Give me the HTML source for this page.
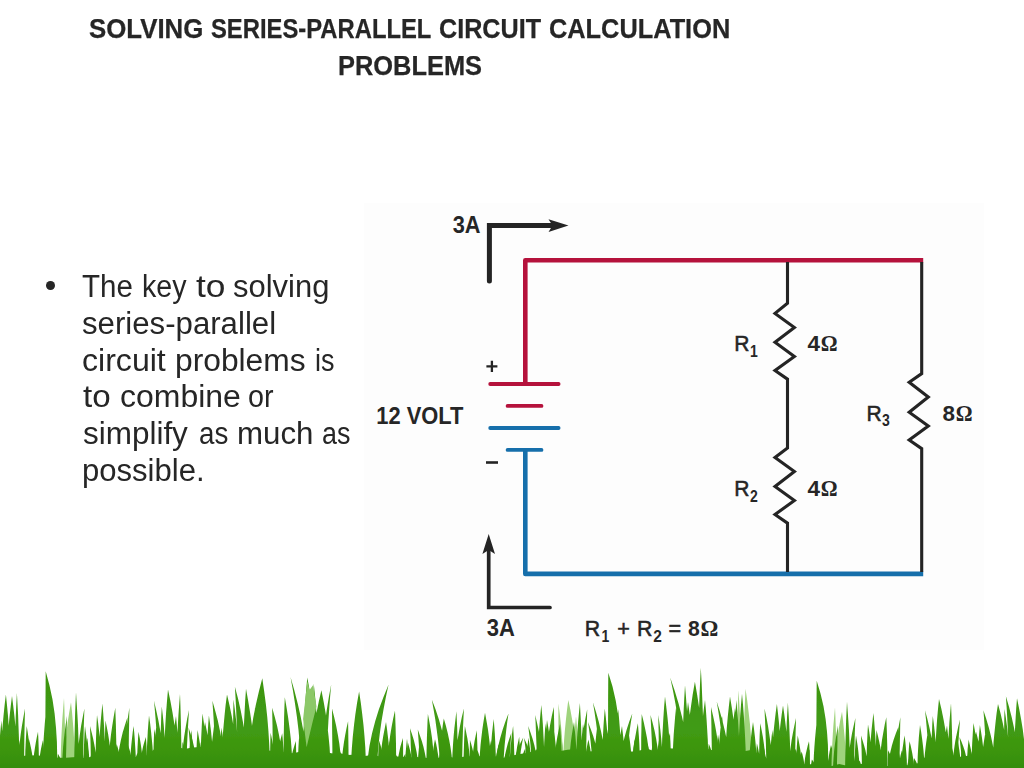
<!DOCTYPE html>
<html><head><meta charset="utf-8"><title>Solving Series-Parallel Circuit Calculation Problems</title>
<style>
html,body{margin:0;padding:0;background:#fff;}
body{width:1024px;height:768px;position:relative;overflow:hidden;font-family:"Liberation Sans",sans-serif;color:#262626;}
.t{position:absolute;white-space:nowrap;transform-origin:0 0;line-height:1;}
.title{font-weight:bold;font-size:27px;color:#262626;-webkit-text-stroke:0.25px #262626;}
.b{font-size:31px;color:#262626;}
svg{position:absolute;left:0;top:0;}
svg text{font-family:"Liberation Sans",sans-serif;fill:#262626;}
.ser{font-family:"Liberation Serif",serif !important;}
</style></head><body>

<svg width="1024" height="768" viewBox="0 0 1024 768">
<rect x="364" y="203" width="620" height="447" fill="#fdfdfd"/>
<path d="M525.3 384 V260.3 H923.2" fill="none" stroke="#b5123c" stroke-width="4.6" stroke-linejoin="round"/>
<path d="M525.3 449.9 V573.9 H923.2" fill="none" stroke="#166fab" stroke-width="4.6" stroke-linejoin="round"/>
<g stroke-linecap="round" stroke-width="3.8" fill="none">
<path d="M490.2 384 H558.6" stroke="#b5123c"/>
<path d="M507.6 405.9 H541.5" stroke="#b5123c"/>
<path d="M490.2 428 H558.6" stroke="#166fab"/>
<path d="M507.6 449.9 H541.5" stroke="#166fab"/>
</g>
<g fill="none" stroke="#242424" stroke-width="3.1" stroke-linejoin="miter">
<path d="M787.5 262 V303.3 L775.0 313.4 L794.4 327.5 L775.0 342.3 L794.4 356.4 L775.0 370.5 L787.5 379.1 V448.1 L775.0 457.5 L794.4 471.6 L775.0 486.4 L794.4 500.5 L775.0 514.5 L787.5 523.1 V572"/>
<path d="M921.7 262 V373.6 L909.2 382.2 L928.3 397 L909.2 412.2 L928.3 425.9 L909.2 440 L921.7 448.6 V572"/>
</g>
<path d="M489.4 281 V225.6 H552" fill="none" stroke="#242424" stroke-width="5" stroke-linecap="round" stroke-linejoin="miter"/>
<path d="M568.5 225.6 L548.5 219.3 L552.5 225.6 L548.5 231.9 Z" fill="#242424"/>
<path d="M488.7 546 V607.5 H550" fill="none" stroke="#242424" stroke-width="3.7" stroke-linecap="round" stroke-linejoin="miter"/>
<path d="M488.7 534 L482.4 554 L488.7 550 L495 554 Z" fill="#242424"/>
<path d="M486.4 366.4 H497.4 M491.9 360.8 V372" stroke="#242424" stroke-width="2.3" fill="none"/>
<path d="M486 462.5 H498" stroke="#242424" stroke-width="2.6" fill="none"/>
<text x="452.7" y="232.8" font-size="23.3" font-weight="bold" textLength="27.8" lengthAdjust="spacingAndGlyphs">3A</text>
<text x="486.7" y="636.2" font-size="23.3" font-weight="bold" textLength="28.1" lengthAdjust="spacingAndGlyphs">3A</text>
<text x="376.3" y="423.7" font-size="23.3" font-weight="bold" textLength="87.2" lengthAdjust="spacingAndGlyphs">12 VOLT</text>
<text x="734.3" y="350.9" font-size="22.7" font-weight="normal" textLength="15.2" lengthAdjust="spacingAndGlyphs" stroke="#262626" stroke-width="0.55">R</text><text x="749.9" y="356.79999999999995" font-size="16.5" font-weight="bold" textLength="7.8" lengthAdjust="spacingAndGlyphs">1</text>
<text x="734.3" y="496.3" font-size="22.7" font-weight="normal" textLength="15.2" lengthAdjust="spacingAndGlyphs" stroke="#262626" stroke-width="0.55">R</text><text x="749.9" y="502.2" font-size="16.5" font-weight="bold" textLength="7.8" lengthAdjust="spacingAndGlyphs">2</text>
<text x="866.5" y="420.5" font-size="22.7" font-weight="normal" textLength="15.2" lengthAdjust="spacingAndGlyphs" stroke="#262626" stroke-width="0.55">R</text><text x="882.1" y="426.4" font-size="16.5" font-weight="bold" textLength="7.8" lengthAdjust="spacingAndGlyphs">3</text>
<text x="807.5" y="350.9" font-size="22.7" font-weight="bold" textLength="12.5" lengthAdjust="spacingAndGlyphs">4</text><text x="820.7" y="350.9" font-size="22.7" font-weight="bold" class="ser" textLength="16.8" lengthAdjust="spacingAndGlyphs">&#937;</text>
<text x="807.5" y="496.3" font-size="22.7" font-weight="bold" textLength="12.5" lengthAdjust="spacingAndGlyphs">4</text><text x="820.7" y="496.3" font-size="22.7" font-weight="bold" class="ser" textLength="16.8" lengthAdjust="spacingAndGlyphs">&#937;</text>
<text x="942.6" y="420.5" font-size="22.7" font-weight="bold" textLength="12.5" lengthAdjust="spacingAndGlyphs">8</text><text x="955.8000000000001" y="420.5" font-size="22.7" font-weight="bold" class="ser" textLength="16.8" lengthAdjust="spacingAndGlyphs">&#937;</text>
<text x="584.8" y="636.2" font-size="22.7" font-weight="normal" textLength="15.4" lengthAdjust="spacingAndGlyphs" stroke="#262626" stroke-width="0.55">R</text><text x="601.6" y="642.0" font-size="16.5" font-weight="bold" textLength="7.8" lengthAdjust="spacingAndGlyphs">1</text>
<text x="617.2" y="636.2" font-size="22.7" font-weight="normal" textLength="12.6" lengthAdjust="spacingAndGlyphs" stroke="#262626" stroke-width="0.55">+</text>
<text x="636.9" y="636.2" font-size="22.7" font-weight="normal" textLength="15.4" lengthAdjust="spacingAndGlyphs" stroke="#262626" stroke-width="0.55">R</text><text x="653.2" y="642.0" font-size="16.5" font-weight="bold" textLength="8.6" lengthAdjust="spacingAndGlyphs">2</text>
<text x="668.4" y="636.2" font-size="22.7" font-weight="normal" textLength="12.6" lengthAdjust="spacingAndGlyphs" stroke="#262626" stroke-width="0.55">=</text>
<text x="688.0" y="636.2" font-size="22.7" font-weight="bold" textLength="11.8" lengthAdjust="spacingAndGlyphs">8</text><text x="700.4" y="636.2" font-size="22.7" font-weight="bold" class="ser" textLength="17.8" lengthAdjust="spacingAndGlyphs">&#937;</text>
</svg>
<svg width="1024" height="768" viewBox="0 0 1024 768">
<defs><filter id="bl" x="0" y="0" width="100%" height="100%" filterUnits="userSpaceOnUse"><feGaussianBlur stdDeviation="0.55"/></filter><linearGradient id="gg" gradientUnits="userSpaceOnUse" x1="0" y1="670" x2="0" y2="768"><stop offset="0" stop-color="#3a9410"/><stop offset="0.6" stop-color="#419b13"/><stop offset="0.8" stop-color="#3c960f"/><stop offset="1" stop-color="#358d0a"/></linearGradient></defs>
<g filter="url(#bl)">
<path fill="url(#gg)" d="M-3.5 770.0 L-3.4 765.9 L-3.4 761.9 L-3.2 757.8 L-3.0 753.7 L-2.8 749.6 L-2.5 745.6 L-2.1 741.5 L-0.8 745.6 L0.4 749.6 L1.4 753.7 L2.2 757.8 L2.9 761.9 L3.3 765.9 L3.5 770.0Z M3.3 770.0 L3.3 766.0 L3.4 762.1 L3.4 758.1 L3.5 754.2 L3.6 750.2 L3.8 746.3 L4.0 742.3 L5.4 746.3 L6.6 750.2 L7.7 754.2 L8.5 758.1 L9.2 762.1 L9.7 766.0 L9.9 770.0Z M9.8 770.0 L9.8 765.3 L9.8 760.7 L9.9 756.0 L10.0 751.4 L10.1 746.7 L10.3 742.1 L10.5 737.4 L11.8 742.1 L12.9 746.7 L14.0 751.4 L14.8 756.0 L15.4 760.7 L15.9 765.3 L16.0 770.0Z M14.4 770.0 L14.5 765.7 L14.9 761.5 L15.4 757.2 L16.1 752.9 L16.9 748.6 L17.9 744.4 L19.0 740.1 L19.8 744.4 L20.5 748.6 L21.1 752.9 L21.5 757.2 L21.9 761.5 L22.1 765.7 L22.2 770.0Z M20.7 770.0 L20.7 767.6 L20.8 765.1 L20.9 762.7 L21.0 760.3 L21.2 757.9 L21.5 755.4 L21.7 753.0 L23.3 755.4 L24.7 757.9 L25.8 760.3 L26.8 762.7 L27.5 765.1 L28.0 767.6 L28.3 770.0Z M26.2 770.0 L26.2 765.5 L26.4 761.0 L26.7 756.5 L27.1 752.0 L27.6 747.5 L28.1 743.0 L28.8 738.5 L29.9 743.0 L30.9 747.5 L31.8 752.0 L32.5 756.5 L33.1 761.0 L33.5 765.5 L33.6 770.0Z M33.3 770.0 L33.4 766.8 L33.6 763.6 L33.9 760.3 L34.2 757.1 L34.7 753.9 L35.3 750.7 L35.9 747.5 L36.9 750.7 L37.7 753.9 L38.5 757.1 L39.1 760.3 L39.5 763.6 L39.8 766.8 L40.0 770.0Z M38.7 770.0 L38.8 765.7 L39.1 761.5 L39.6 757.2 L40.3 753.0 L41.0 748.7 L41.9 744.5 L42.9 740.2 L43.4 744.5 L43.9 748.7 L44.2 753.0 L44.5 757.2 L44.8 761.5 L44.9 765.7 L45.0 770.0Z M44.9 770.0 L45.0 766.4 L45.1 762.7 L45.4 759.1 L45.8 755.4 L46.2 751.8 L46.8 748.2 L47.4 744.5 L48.6 748.2 L49.6 751.8 L50.5 755.4 L51.2 759.1 L51.7 762.7 L52.1 766.4 L52.3 770.0Z M50.5 770.0 L50.6 766.7 L50.9 763.3 L51.4 760.0 L52.0 756.7 L52.7 753.3 L53.5 750.0 L54.5 746.7 L55.4 750.0 L56.1 753.3 L56.8 756.7 L57.3 760.0 L57.7 763.3 L58.0 766.7 L58.1 770.0Z M57.1 770.0 L57.1 767.7 L57.1 765.3 L57.2 763.0 L57.3 760.7 L57.5 758.3 L57.7 756.0 L57.9 753.7 L59.2 756.0 L60.3 758.3 L61.3 760.7 L62.1 763.0 L62.7 765.3 L63.1 767.7 L63.3 770.0Z M62.1 770.0 L62.1 766.5 L62.2 762.9 L62.2 759.4 L62.3 755.9 L62.5 752.4 L62.7 748.8 L62.9 745.3 L64.4 748.8 L65.7 752.4 L66.8 755.9 L67.7 759.4 L68.4 762.9 L68.9 766.5 L69.1 770.0Z M68.8 770.0 L68.9 767.4 L69.1 764.8 L69.3 762.2 L69.7 759.6 L70.1 757.1 L70.6 754.5 L71.2 751.9 L72.4 754.5 L73.3 757.1 L74.2 759.6 L74.9 762.2 L75.4 764.8 L75.7 767.4 L75.9 770.0Z M75.2 770.0 L75.4 766.4 L75.8 762.8 L76.5 759.2 L77.4 755.6 L78.5 752.0 L79.7 748.4 L81.1 744.8 L81.6 748.4 L82.0 752.0 L82.4 755.6 L82.6 759.2 L82.8 762.8 L83.0 766.4 L83.0 770.0Z M82.6 770.0 L82.8 765.4 L83.1 760.9 L83.7 756.3 L84.4 751.7 L85.2 747.2 L86.2 742.6 L87.3 738.0 L87.9 742.6 L88.3 747.2 L88.8 751.7 L89.1 756.3 L89.3 760.9 L89.5 765.4 L89.6 770.0Z M90.0 770.0 L90.1 766.0 L90.3 762.0 L90.6 757.9 L91.1 753.9 L91.6 749.9 L92.2 745.9 L92.9 741.8 L93.9 745.9 L94.8 749.9 L95.5 753.9 L96.1 757.9 L96.6 762.0 L96.9 766.0 L97.1 770.0Z M97.3 770.0 L97.3 765.7 L97.3 761.4 L97.4 757.1 L97.4 752.8 L97.5 748.5 L97.5 744.2 L97.6 739.9 L98.8 744.2 L99.8 748.5 L100.7 752.8 L101.4 757.1 L102.0 761.4 L102.4 765.7 L102.5 770.0Z M101.5 770.0 L101.6 765.9 L101.8 761.8 L102.2 757.7 L102.7 753.5 L103.2 749.4 L103.9 745.3 L104.7 741.2 L105.7 745.3 L106.7 749.4 L107.5 753.5 L108.1 757.7 L108.7 761.8 L109.0 765.9 L109.1 770.0Z M107.9 770.0 L108.1 766.6 L108.6 763.2 L109.3 759.9 L110.2 756.5 L111.3 753.1 L112.5 749.7 L114.0 746.3 L114.3 749.7 L114.7 753.1 L114.9 756.5 L115.1 759.9 L115.3 763.2 L115.4 766.6 L115.4 770.0Z M113.7 770.0 L113.8 766.3 L114.0 762.6 L114.3 758.9 L114.8 755.2 L115.3 751.5 L115.9 747.8 L116.7 744.1 L117.8 747.8 L118.8 751.5 L119.6 755.2 L120.3 758.9 L120.8 762.6 L121.2 766.3 L121.3 770.0Z M120.1 770.0 L120.1 765.7 L120.2 761.4 L120.4 757.1 L120.5 752.9 L120.8 748.6 L121.0 744.3 L121.4 740.0 L122.4 744.3 L123.3 748.6 L124.1 752.9 L124.8 757.1 L125.3 761.4 L125.7 765.7 L125.8 770.0Z M126.6 770.0 L126.6 765.9 L126.6 761.8 L126.6 757.7 L126.6 753.6 L126.6 749.6 L126.7 745.5 L126.8 741.4 L128.2 745.5 L129.5 749.6 L130.6 753.6 L131.5 757.7 L132.2 761.8 L132.7 765.9 L132.9 770.0Z M133.2 770.0 L133.3 767.5 L133.6 765.1 L134.1 762.6 L134.8 760.1 L135.6 757.7 L136.5 755.2 L137.6 752.7 L138.1 755.2 L138.6 757.7 L138.9 760.1 L139.3 762.6 L139.5 765.1 L139.6 767.5 L139.7 770.0Z M139.8 770.0 L140.0 765.3 L140.5 760.6 L141.2 755.9 L142.1 751.2 L143.1 746.5 L144.4 741.8 L145.9 737.1 L146.2 741.8 L146.5 746.5 L146.7 751.2 L146.9 755.9 L147.0 760.6 L147.1 765.3 L147.1 770.0Z M148.2 770.0 L148.3 765.5 L148.4 761.1 L148.6 756.6 L148.9 752.2 L149.3 747.7 L149.7 743.2 L150.2 738.8 L151.0 743.2 L151.7 747.7 L152.3 752.2 L152.8 756.6 L153.2 761.1 L153.4 765.5 L153.5 770.0Z M153.3 770.0 L153.3 764.2 L153.4 758.3 L153.5 752.5 L153.6 746.7 L153.8 740.8 L154.0 735.0 L154.3 729.1 L155.4 735.0 L156.3 740.8 L157.1 746.7 L157.8 752.5 L158.3 758.3 L158.6 764.2 L158.8 770.0Z M158.5 770.0 L158.5 764.0 L158.6 758.0 L158.6 752.0 L158.7 746.0 L158.8 740.0 L158.9 734.0 L159.1 727.9 L160.2 734.0 L161.2 740.0 L162.1 746.0 L162.8 752.0 L163.3 758.0 L163.7 764.0 L163.8 770.0Z M163.5 770.0 L163.7 766.1 L163.9 762.2 L164.3 758.3 L164.8 754.4 L165.4 750.5 L166.1 746.6 L167.0 742.8 L167.5 746.6 L167.9 750.5 L168.3 754.4 L168.6 758.3 L168.8 762.2 L168.9 766.1 L169.0 770.0Z M168.5 770.0 L168.6 764.9 L168.7 759.7 L168.8 754.6 L169.0 749.4 L169.3 744.3 L169.7 739.2 L170.0 734.0 L171.5 739.2 L172.7 744.3 L173.8 749.4 L174.7 754.6 L175.4 759.7 L175.9 764.9 L176.1 770.0Z M176.1 770.0 L176.0 765.1 L176.0 760.3 L176.0 755.4 L176.1 750.6 L176.1 745.7 L176.2 740.8 L176.2 736.0 L177.4 740.8 L178.5 745.7 L179.4 750.6 L180.2 755.4 L180.8 760.3 L181.2 765.1 L181.4 770.0Z M182.0 770.0 L182.0 766.0 L182.0 761.9 L182.0 757.9 L182.1 753.9 L182.2 749.8 L182.3 745.8 L182.5 741.8 L183.6 745.8 L184.5 749.8 L185.3 753.9 L186.0 757.9 L186.5 761.9 L186.9 766.0 L187.0 770.0Z M188.5 770.0 L188.6 764.3 L188.8 758.6 L189.2 752.9 L189.6 747.2 L190.1 741.5 L190.7 735.8 L191.3 730.1 L191.9 735.8 L192.4 741.5 L192.8 747.2 L193.1 752.9 L193.4 758.6 L193.6 764.3 L193.6 770.0Z M196.1 770.0 L196.3 766.0 L196.6 762.1 L197.0 758.1 L197.6 754.1 L198.4 750.2 L199.2 746.2 L200.2 742.2 L200.6 746.2 L201.0 750.2 L201.3 754.1 L201.6 758.1 L201.8 762.1 L201.9 766.0 L201.9 770.0Z M200.9 770.0 L201.0 765.8 L201.3 761.6 L201.7 757.4 L202.3 753.2 L203.0 749.0 L203.8 744.8 L204.7 740.6 L205.6 744.8 L206.3 749.0 L206.9 753.2 L207.4 757.4 L207.8 761.6 L208.1 765.8 L208.2 770.0Z M206.4 770.0 L206.6 765.9 L207.2 761.8 L207.9 757.7 L208.9 753.6 L210.1 749.4 L211.5 745.3 L213.1 741.2 L213.3 745.3 L213.6 749.4 L213.7 753.6 L213.8 757.7 L213.9 761.8 L214.0 765.9 L214.0 770.0Z M214.4 770.0 L214.4 765.7 L214.5 761.4 L214.7 757.1 L214.9 752.8 L215.2 748.5 L215.6 744.2 L216.0 739.9 L217.2 744.2 L218.2 748.5 L219.1 752.8 L219.8 757.1 L220.4 761.4 L220.8 765.7 L220.9 770.0Z M219.8 770.0 L219.9 764.0 L220.0 757.9 L220.2 751.9 L220.4 745.9 L220.7 739.8 L221.0 733.8 L221.4 727.8 L222.4 733.8 L223.3 739.8 L224.1 745.9 L224.7 751.9 L225.2 757.9 L225.5 764.0 L225.6 770.0Z M226.6 770.0 L226.8 765.0 L227.4 759.9 L228.1 754.9 L229.1 749.9 L230.3 744.9 L231.7 739.8 L233.2 734.8 L233.6 739.8 L233.9 744.9 L234.1 749.9 L234.3 754.9 L234.5 759.9 L234.6 765.0 L234.6 770.0Z M233.9 770.0 L233.9 764.4 L234.0 758.8 L234.1 753.2 L234.3 747.7 L234.5 742.1 L234.8 736.5 L235.1 730.9 L236.1 736.5 L237.0 742.1 L237.8 747.7 L238.5 753.2 L239.0 758.8 L239.4 764.4 L239.5 770.0Z M240.4 770.0 L240.5 766.1 L240.9 762.1 L241.5 758.2 L242.3 754.2 L243.3 750.3 L244.4 746.3 L245.6 742.4 L245.9 746.3 L246.2 750.3 L246.4 754.2 L246.6 758.2 L246.7 762.1 L246.8 766.1 L246.8 770.0Z M247.1 770.0 L247.3 764.1 L247.6 758.2 L248.2 752.2 L248.9 746.3 L249.8 740.4 L250.8 734.5 L251.9 728.6 L252.6 734.5 L253.3 740.4 L253.8 746.3 L254.2 752.2 L254.5 758.2 L254.8 764.1 L254.8 770.0Z M254.5 770.0 L254.6 765.2 L254.7 760.3 L254.9 755.5 L255.1 750.7 L255.5 745.8 L255.8 741.0 L256.3 736.2 L257.6 741.0 L258.8 745.8 L259.8 750.7 L260.6 755.5 L261.3 760.3 L261.7 765.2 L261.9 770.0Z M262.5 770.0 L262.6 766.5 L262.8 763.0 L263.0 759.5 L263.4 756.0 L263.9 752.5 L264.4 749.0 L265.0 745.5 L265.9 749.0 L266.7 752.5 L267.4 756.0 L267.9 759.5 L268.3 763.0 L268.6 766.5 L268.7 770.0Z M270.1 770.0 L270.1 764.7 L270.1 759.4 L270.1 754.0 L270.2 748.7 L270.3 743.4 L270.4 738.1 L270.6 732.7 L271.7 738.1 L272.8 743.4 L273.7 748.7 L274.4 754.0 L275.0 759.4 L275.4 764.7 L275.5 770.0Z M276.2 770.0 L276.4 764.8 L276.9 759.5 L277.6 754.3 L278.5 749.0 L279.5 743.8 L280.8 738.5 L282.2 733.3 L282.7 738.5 L283.1 743.8 L283.5 749.0 L283.8 754.3 L284.0 759.5 L284.1 764.8 L284.2 770.0Z M283.7 770.0 L283.7 765.8 L283.7 761.7 L283.8 757.5 L283.8 753.3 L283.9 749.2 L284.0 745.0 L284.1 740.9 L285.2 745.0 L286.2 749.2 L287.0 753.3 L287.7 757.5 L288.3 761.7 L288.6 765.8 L288.8 770.0Z M290.1 770.0 L290.3 765.9 L290.7 761.7 L291.4 757.6 L292.2 753.5 L293.3 749.3 L294.5 745.2 L295.8 741.1 L296.0 745.2 L296.1 749.3 L296.2 753.5 L296.3 757.6 L296.3 761.7 L296.4 765.9 L296.4 770.0Z M297.8 770.0 L297.8 765.1 L297.9 760.3 L298.0 755.4 L298.3 750.6 L298.5 745.7 L298.8 740.9 L299.2 736.0 L300.3 740.9 L301.2 745.7 L302.0 750.6 L302.6 755.4 L303.2 760.3 L303.5 765.1 L303.6 770.0Z M304.8 770.0 L304.8 765.3 L305.0 760.6 L305.2 755.9 L305.6 751.2 L306.0 746.5 L306.4 741.8 L307.0 737.1 L307.7 741.8 L308.4 746.5 L309.0 751.2 L309.5 755.9 L309.8 760.6 L310.1 765.3 L310.2 770.0Z M309.7 770.0 L309.8 765.8 L310.1 761.6 L310.6 757.5 L311.3 753.3 L312.0 749.1 L313.0 744.9 L314.0 740.7 L314.8 744.9 L315.6 749.1 L316.2 753.3 L316.7 757.5 L317.0 761.6 L317.3 765.8 L317.4 770.0Z M318.0 770.0 L318.1 766.0 L318.4 761.9 L318.7 757.9 L319.3 753.9 L319.9 749.8 L320.6 745.8 L321.5 741.8 L322.2 745.8 L322.9 749.8 L323.4 753.9 L323.9 757.9 L324.2 761.9 L324.5 766.0 L324.6 770.0Z M323.9 770.0 L323.9 765.2 L323.9 760.5 L324.0 755.7 L324.1 750.9 L324.2 746.2 L324.4 741.4 L324.6 736.6 L326.2 741.4 L327.6 746.2 L328.8 750.9 L329.8 755.7 L330.5 760.5 L331.1 765.2 L331.3 770.0Z M331.0 770.0 L331.1 766.6 L331.4 763.2 L331.8 759.8 L332.2 756.3 L332.8 752.9 L333.5 749.5 L334.4 746.1 L335.0 749.5 L335.6 752.9 L336.0 756.3 L336.4 759.8 L336.7 763.2 L336.9 766.6 L337.0 770.0Z M337.3 770.0 L337.4 766.8 L337.4 763.5 L337.5 760.3 L337.6 757.1 L337.8 753.8 L338.1 750.6 L338.3 747.4 L339.7 750.6 L340.9 753.8 L341.9 757.1 L342.7 760.3 L343.4 763.5 L343.8 766.8 L344.0 770.0Z M343.2 770.0 L343.3 766.8 L343.5 763.6 L343.9 760.3 L344.4 757.1 L345.0 753.9 L345.7 750.7 L346.6 747.5 L347.4 750.7 L348.1 753.9 L348.6 757.1 L349.1 760.3 L349.5 763.6 L349.8 766.8 L349.9 770.0Z M351.0 770.0 L351.1 766.0 L351.4 762.1 L351.9 758.1 L352.4 754.1 L353.1 750.2 L354.0 746.2 L354.9 742.2 L355.6 746.2 L356.1 750.2 L356.6 754.1 L357.0 758.1 L357.2 762.1 L357.4 766.0 L357.5 770.0Z M358.1 770.0 L358.2 766.1 L358.5 762.2 L358.9 758.3 L359.4 754.4 L360.0 750.5 L360.7 746.6 L361.5 742.8 L362.3 746.6 L362.9 750.5 L363.4 754.4 L363.9 758.3 L364.2 762.2 L364.5 766.1 L364.5 770.0Z M365.5 770.0 L365.7 767.2 L366.2 764.4 L366.8 761.6 L367.6 758.8 L368.6 755.9 L369.8 753.1 L371.1 750.3 L371.2 753.1 L371.2 755.9 L371.3 758.8 L371.3 761.6 L371.3 764.4 L371.3 767.2 L371.3 770.0Z M373.6 770.0 L373.6 767.2 L373.6 764.3 L373.6 761.5 L373.7 758.6 L373.8 755.8 L373.9 752.9 L374.1 750.1 L375.2 752.9 L376.2 755.8 L377.1 758.6 L377.8 761.5 L378.4 764.3 L378.8 767.2 L378.9 770.0Z M378.0 770.0 L378.0 765.7 L378.0 761.5 L378.1 757.2 L378.3 753.0 L378.4 748.7 L378.6 744.4 L378.9 740.2 L380.3 744.4 L381.6 748.7 L382.7 753.0 L383.6 757.2 L384.3 761.5 L384.8 765.7 L385.0 770.0Z M385.7 770.0 L385.8 765.6 L386.2 761.2 L386.7 756.8 L387.4 752.3 L388.3 747.9 L389.3 743.5 L390.5 739.1 L391.0 743.5 L391.5 747.9 L391.9 752.3 L392.2 756.8 L392.4 761.2 L392.6 765.6 L392.7 770.0Z M392.9 770.0 L392.9 767.6 L393.1 765.2 L393.3 762.8 L393.7 760.5 L394.1 758.1 L394.6 755.7 L395.1 753.3 L396.5 755.7 L397.6 758.1 L398.7 760.5 L399.5 762.8 L400.1 765.2 L400.6 767.6 L400.7 770.0Z M400.5 770.0 L400.7 767.7 L401.1 765.4 L401.6 763.1 L402.3 760.8 L403.2 758.4 L404.1 756.1 L405.3 753.8 L405.5 756.1 L405.6 758.4 L405.8 760.8 L405.9 763.1 L406.0 765.4 L406.0 767.7 L406.0 770.0Z M406.8 770.0 L406.9 766.1 L406.9 762.2 L407.1 758.3 L407.2 754.4 L407.4 750.5 L407.7 746.7 L408.0 742.8 L409.1 746.7 L410.1 750.5 L411.0 754.4 L411.7 758.3 L412.3 762.2 L412.6 766.1 L412.8 770.0Z M412.3 770.0 L412.4 766.6 L412.6 763.3 L412.8 759.9 L413.1 756.5 L413.5 753.2 L414.0 749.8 L414.5 746.4 L415.2 749.8 L415.8 753.2 L416.3 756.5 L416.8 759.9 L417.1 763.3 L417.3 766.6 L417.4 770.0Z M417.8 770.0 L417.8 766.5 L417.9 763.1 L418.0 759.6 L418.2 756.1 L418.5 752.6 L418.8 749.2 L419.1 745.7 L420.7 749.2 L422.1 752.6 L423.3 756.1 L424.2 759.6 L425.0 763.1 L425.5 766.5 L425.7 770.0Z M427.1 770.0 L427.1 765.5 L427.2 761.1 L427.3 756.6 L427.5 752.2 L427.7 747.7 L428.0 743.2 L428.3 738.8 L429.2 743.2 L430.0 747.7 L430.7 752.2 L431.3 756.6 L431.8 761.1 L432.1 765.5 L432.2 770.0Z M431.6 770.0 L431.7 765.6 L432.0 761.2 L432.3 756.8 L432.8 752.4 L433.5 748.0 L434.2 743.6 L435.0 739.2 L436.1 743.6 L437.0 748.0 L437.7 752.4 L438.4 756.8 L438.9 761.2 L439.2 765.6 L439.3 770.0Z M437.9 770.0 L438.1 765.6 L438.5 761.3 L439.2 756.9 L440.1 752.6 L441.1 748.2 L442.4 743.9 L443.8 739.5 L444.0 743.9 L444.2 748.2 L444.4 752.6 L444.5 756.9 L444.6 761.3 L444.6 765.6 L444.6 770.0Z M443.4 770.0 L443.5 765.4 L443.8 760.9 L444.3 756.3 L445.0 751.7 L445.7 747.1 L446.6 742.6 L447.6 738.0 L448.1 742.6 L448.6 747.1 L448.9 751.7 L449.2 756.3 L449.5 760.9 L449.6 765.4 L449.7 770.0Z M451.7 770.0 L451.9 766.8 L452.2 763.7 L452.7 760.5 L453.4 757.3 L454.2 754.1 L455.1 751.0 L456.1 747.8 L456.4 751.0 L456.5 754.1 L456.7 757.3 L456.8 760.5 L456.9 763.7 L456.9 766.8 L457.0 770.0Z M456.5 770.0 L456.6 767.4 L456.8 764.8 L457.1 762.1 L457.5 759.5 L458.0 756.9 L458.6 754.3 L459.3 751.7 L460.0 754.3 L460.7 756.9 L461.3 759.5 L461.8 762.1 L462.2 764.8 L462.4 767.4 L462.5 770.0Z M464.0 770.0 L464.0 765.9 L464.1 761.9 L464.2 757.8 L464.4 753.7 L464.6 749.7 L464.8 745.6 L465.1 741.6 L466.4 745.6 L467.6 749.7 L468.5 753.7 L469.4 757.8 L470.0 761.9 L470.4 765.9 L470.6 770.0Z M469.8 770.0 L469.8 765.7 L469.8 761.4 L469.8 757.0 L469.8 752.7 L469.8 748.4 L469.9 744.1 L469.9 739.7 L471.2 744.1 L472.4 748.4 L473.4 752.7 L474.2 757.0 L474.8 761.4 L475.3 765.7 L475.4 770.0Z M475.3 770.0 L475.4 767.1 L475.5 764.3 L475.7 761.4 L476.0 758.5 L476.4 755.7 L476.8 752.8 L477.3 749.9 L478.4 752.8 L479.3 755.7 L480.1 758.5 L480.8 761.4 L481.3 764.3 L481.7 767.1 L481.8 770.0Z M482.1 770.0 L482.1 765.3 L482.2 760.7 L482.3 756.0 L482.4 751.3 L482.6 746.6 L482.8 742.0 L483.1 737.3 L484.1 742.0 L484.9 746.6 L485.6 751.3 L486.2 756.0 L486.7 760.7 L487.0 765.3 L487.1 770.0Z M487.3 770.0 L487.5 765.7 L487.7 761.5 L488.2 757.2 L488.7 753.0 L489.4 748.7 L490.2 744.5 L491.1 740.2 L492.1 744.5 L492.9 748.7 L493.7 753.0 L494.3 757.2 L494.7 761.5 L495.0 765.7 L495.2 770.0Z M495.0 770.0 L495.1 766.3 L495.3 762.7 L495.8 759.0 L496.3 755.3 L497.0 751.7 L497.8 748.0 L498.7 744.3 L499.6 748.0 L500.4 751.7 L501.1 755.3 L501.6 759.0 L502.1 762.7 L502.3 766.3 L502.5 770.0Z M502.2 770.0 L502.4 767.0 L502.9 763.9 L503.6 760.9 L504.4 757.8 L505.5 754.8 L506.7 751.7 L508.1 748.7 L508.2 751.7 L508.2 754.8 L508.3 757.8 L508.3 760.9 L508.3 763.9 L508.3 767.0 L508.2 770.0Z M509.3 770.0 L509.4 766.8 L509.6 763.6 L509.8 760.5 L510.2 757.3 L510.7 754.1 L511.2 750.9 L511.8 747.7 L512.6 750.9 L513.4 754.1 L514.0 757.3 L514.6 760.5 L515.0 763.6 L515.3 766.8 L515.4 770.0Z M514.9 770.0 L515.0 765.3 L515.3 760.5 L515.8 755.8 L516.5 751.0 L517.2 746.3 L518.2 741.5 L519.2 736.8 L519.5 741.5 L519.9 746.3 L520.1 751.0 L520.3 755.8 L520.5 760.5 L520.6 765.3 L520.6 770.0Z M519.5 770.0 L519.7 766.9 L520.1 763.9 L520.8 760.8 L521.6 757.7 L522.7 754.7 L523.9 751.6 L525.2 748.6 L525.6 751.6 L525.8 754.7 L526.1 757.7 L526.3 760.8 L526.4 763.9 L526.5 766.9 L526.5 770.0Z M526.0 770.0 L526.1 765.4 L526.2 760.8 L526.5 756.2 L526.9 751.6 L527.3 747.0 L527.9 742.4 L528.5 737.8 L529.2 742.4 L529.8 747.0 L530.4 751.6 L530.8 756.2 L531.1 760.8 L531.4 765.4 L531.5 770.0Z M531.2 770.0 L531.4 766.8 L531.9 763.6 L532.6 760.5 L533.5 757.3 L534.6 754.1 L535.9 750.9 L537.3 747.7 L537.5 750.9 L537.6 754.1 L537.7 757.3 L537.8 760.5 L537.8 763.6 L537.8 766.8 L537.8 770.0Z M539.9 770.0 L539.9 765.0 L540.1 760.1 L540.2 755.1 L540.5 750.2 L540.8 745.2 L541.1 740.2 L541.5 735.3 L542.3 740.2 L543.1 745.2 L543.7 750.2 L544.2 755.1 L544.5 760.1 L544.8 765.0 L544.9 770.0Z M545.6 770.0 L545.6 765.5 L545.7 761.0 L545.9 756.6 L546.1 752.1 L546.3 747.6 L546.7 743.1 L547.0 738.6 L548.2 743.1 L549.3 747.6 L550.2 752.1 L551.0 756.6 L551.5 761.0 L551.9 765.5 L552.1 770.0Z M552.1 770.0 L552.1 764.5 L552.3 759.0 L552.5 753.6 L552.8 748.1 L553.1 742.6 L553.5 737.1 L554.0 731.7 L554.8 737.1 L555.4 742.6 L556.0 748.1 L556.5 753.6 L556.8 759.0 L557.1 764.5 L557.2 770.0Z M557.2 770.0 L557.4 764.9 L557.6 759.8 L558.1 754.6 L558.6 749.5 L559.3 744.4 L560.1 739.3 L561.0 734.2 L561.7 739.3 L562.3 744.4 L562.8 749.5 L563.2 754.6 L563.5 759.8 L563.7 764.9 L563.8 770.0Z M564.4 770.0 L564.6 766.1 L565.0 762.1 L565.6 758.2 L566.4 754.3 L567.4 750.3 L568.5 746.4 L569.8 742.4 L570.0 746.4 L570.2 750.3 L570.3 754.3 L570.5 758.2 L570.5 762.1 L570.6 766.1 L570.6 770.0Z M572.0 770.0 L572.1 764.7 L572.5 759.4 L573.1 754.1 L573.8 748.8 L574.6 743.5 L575.7 738.2 L576.8 732.9 L577.3 738.2 L577.8 743.5 L578.2 748.8 L578.5 754.1 L578.7 759.4 L578.9 764.7 L578.9 770.0Z M579.4 770.0 L579.5 766.5 L579.8 763.0 L580.3 759.5 L581.0 756.1 L581.8 752.6 L582.7 749.1 L583.7 745.6 L584.4 749.1 L585.0 752.6 L585.5 756.1 L586.0 759.5 L586.3 763.0 L586.5 766.5 L586.6 770.0Z M584.6 770.0 L584.7 765.6 L585.0 761.3 L585.5 756.9 L586.0 752.5 L586.7 748.1 L587.5 743.8 L588.4 739.4 L589.3 743.8 L590.1 748.1 L590.8 752.5 L591.3 756.9 L591.7 761.3 L592.0 765.6 L592.1 770.0Z M592.3 770.0 L592.5 765.8 L593.0 761.6 L593.7 757.4 L594.5 753.1 L595.6 748.9 L596.8 744.7 L598.2 740.5 L598.5 744.7 L598.8 748.9 L599.0 753.1 L599.2 757.4 L599.3 761.6 L599.4 765.8 L599.4 770.0Z M598.5 770.0 L598.5 764.4 L598.6 758.9 L598.7 753.3 L598.8 747.8 L598.9 742.2 L599.1 736.7 L599.4 731.1 L600.6 736.7 L601.7 742.2 L602.6 747.8 L603.4 753.3 L604.0 758.9 L604.4 764.4 L604.6 770.0Z M605.6 770.0 L605.8 765.7 L606.1 761.5 L606.6 757.2 L607.2 753.0 L607.9 748.7 L608.8 744.4 L609.8 740.2 L610.5 744.4 L611.1 748.7 L611.5 753.0 L611.9 757.2 L612.2 761.5 L612.4 765.7 L612.5 770.0Z M611.9 770.0 L612.1 764.4 L612.5 758.8 L613.1 753.2 L613.9 747.6 L614.9 742.0 L616.0 736.4 L617.3 730.8 L617.8 736.4 L618.2 742.0 L618.5 747.6 L618.8 753.2 L619.0 758.8 L619.1 764.4 L619.2 770.0Z M618.5 770.0 L618.5 766.0 L618.6 762.0 L618.7 758.0 L618.8 754.0 L619.0 750.0 L619.3 746.0 L619.5 742.0 L621.0 746.0 L622.3 750.0 L623.4 754.0 L624.3 758.0 L625.1 762.0 L625.5 766.0 L625.7 770.0Z M624.5 770.0 L624.7 765.1 L625.0 760.1 L625.5 755.2 L626.1 750.2 L626.9 745.3 L627.7 740.3 L628.7 735.4 L629.1 740.3 L629.4 745.3 L629.7 750.2 L629.9 755.2 L630.0 760.1 L630.1 765.1 L630.2 770.0Z M632.1 770.0 L632.1 765.6 L632.3 761.2 L632.6 756.9 L633.0 752.5 L633.4 748.1 L634.0 743.7 L634.6 739.3 L635.5 743.7 L636.3 748.1 L637.1 752.5 L637.6 756.9 L638.1 761.2 L638.4 765.6 L638.5 770.0Z M640.0 770.0 L640.1 765.9 L640.3 761.8 L640.7 757.7 L641.3 753.6 L641.9 749.5 L642.6 745.5 L643.4 741.4 L643.9 745.5 L644.3 749.5 L644.6 753.6 L644.8 757.7 L645.0 761.8 L645.2 765.9 L645.2 770.0Z M645.0 770.0 L645.1 766.2 L645.2 762.3 L645.4 758.5 L645.8 754.7 L646.2 750.9 L646.6 747.0 L647.2 743.2 L648.3 747.0 L649.2 750.9 L650.0 754.7 L650.7 758.5 L651.2 762.3 L651.6 766.2 L651.7 770.0Z M650.0 770.0 L650.1 765.0 L650.5 760.0 L651.0 755.0 L651.7 749.9 L652.5 744.9 L653.5 739.9 L654.6 734.9 L655.2 739.9 L655.7 744.9 L656.2 749.9 L656.5 755.0 L656.8 760.0 L657.0 765.0 L657.1 770.0Z M656.2 770.0 L656.3 765.5 L656.5 761.1 L656.8 756.6 L657.3 752.2 L657.8 747.7 L658.5 743.3 L659.2 738.8 L660.0 743.3 L660.7 747.7 L661.4 752.2 L661.9 756.6 L662.2 761.1 L662.5 765.5 L662.6 770.0Z M663.2 770.0 L663.4 764.7 L663.9 759.4 L664.7 754.2 L665.7 748.9 L666.9 743.6 L668.3 738.3 L670.0 733.0 L670.2 738.3 L670.5 743.6 L670.7 748.9 L670.8 754.2 L670.9 759.4 L671.0 764.7 L671.0 770.0Z M670.3 770.0 L670.5 766.2 L671.0 762.4 L671.6 758.5 L672.5 754.7 L673.6 750.9 L674.9 747.1 L676.3 743.3 L676.4 747.1 L676.5 750.9 L676.6 754.7 L676.6 758.5 L676.6 762.4 L676.6 766.2 L676.6 770.0Z M675.7 770.0 L675.8 766.4 L675.9 762.9 L676.0 759.3 L676.3 755.8 L676.6 752.2 L676.9 748.7 L677.4 745.1 L678.6 748.7 L679.6 752.2 L680.6 755.8 L681.3 759.3 L681.9 762.9 L682.3 766.4 L682.5 770.0Z M681.9 770.0 L682.0 766.5 L682.1 762.9 L682.2 759.4 L682.4 755.9 L682.7 752.3 L683.1 748.8 L683.5 745.3 L684.9 748.8 L686.1 752.3 L687.2 755.9 L688.1 759.4 L688.7 762.9 L689.2 766.5 L689.4 770.0Z M689.5 770.0 L689.5 765.9 L689.7 761.8 L689.9 757.6 L690.3 753.5 L690.7 749.4 L691.2 745.3 L691.7 741.1 L693.0 745.3 L694.2 749.4 L695.1 753.5 L696.0 757.6 L696.6 761.8 L697.0 765.9 L697.2 770.0Z M695.2 770.0 L695.3 764.2 L695.5 758.4 L695.9 752.6 L696.4 746.8 L696.9 740.9 L697.6 735.1 L698.3 729.3 L699.1 735.1 L699.8 740.9 L700.4 746.8 L700.9 752.6 L701.2 758.4 L701.5 764.2 L701.6 770.0Z M700.1 770.0 L700.1 765.0 L700.3 760.1 L700.6 755.1 L701.0 750.1 L701.5 745.1 L702.1 740.2 L702.7 735.2 L703.9 740.2 L704.9 745.1 L705.8 750.1 L706.5 755.1 L707.1 760.1 L707.4 765.0 L707.6 770.0Z M707.2 770.0 L707.2 766.2 L707.3 762.5 L707.5 758.7 L707.7 755.0 L708.0 751.2 L708.4 747.5 L708.8 743.7 L710.3 747.5 L711.6 751.2 L712.7 755.0 L713.6 758.7 L714.3 762.5 L714.8 766.2 L715.0 770.0Z M715.7 770.0 L715.8 764.9 L715.9 759.9 L716.2 754.8 L716.5 749.7 L716.9 744.6 L717.4 739.6 L718.0 734.5 L718.9 739.6 L719.7 744.6 L720.4 749.7 L721.0 754.8 L721.5 759.9 L721.7 764.9 L721.9 770.0Z M722.6 770.0 L722.7 765.1 L722.9 760.2 L723.2 755.3 L723.5 750.4 L724.0 745.6 L724.5 740.7 L725.1 735.8 L725.9 740.7 L726.6 745.6 L727.2 750.4 L727.7 755.3 L728.1 760.2 L728.4 765.1 L728.5 770.0Z M726.9 770.0 L727.0 766.3 L727.2 762.5 L727.5 758.8 L727.9 755.1 L728.3 751.4 L728.9 747.6 L729.6 743.9 L730.8 747.6 L731.9 751.4 L732.8 755.1 L733.6 758.8 L734.2 762.5 L734.6 766.3 L734.8 770.0Z M733.6 770.0 L733.6 765.5 L733.7 761.0 L733.8 756.5 L734.0 752.0 L734.2 747.5 L734.5 743.0 L734.8 738.5 L736.0 743.0 L737.0 747.5 L737.9 752.0 L738.6 756.5 L739.2 761.0 L739.5 765.5 L739.7 770.0Z M740.4 770.0 L740.6 766.2 L740.9 762.5 L741.5 758.7 L742.1 755.0 L743.0 751.2 L744.0 747.5 L745.1 743.7 L745.8 747.5 L746.5 751.2 L747.1 755.0 L747.5 758.7 L747.9 762.5 L748.1 766.2 L748.2 770.0Z M747.3 770.0 L747.4 766.1 L747.4 762.1 L747.5 758.2 L747.6 754.3 L747.8 750.4 L748.0 746.4 L748.2 742.5 L749.7 746.4 L751.1 750.4 L752.2 754.3 L753.1 758.2 L753.8 762.1 L754.3 766.1 L754.5 770.0Z M755.6 770.0 L755.7 766.2 L755.7 762.4 L755.9 758.6 L756.1 754.7 L756.3 750.9 L756.6 747.1 L756.9 743.3 L757.8 747.1 L758.6 750.9 L759.3 754.7 L759.9 758.6 L760.4 762.4 L760.7 766.2 L760.8 770.0Z M760.6 770.0 L760.7 766.0 L760.8 762.0 L761.1 758.0 L761.4 753.9 L761.7 749.9 L762.2 745.9 L762.6 741.9 L763.6 745.9 L764.4 749.9 L765.1 753.9 L765.7 758.0 L766.1 762.0 L766.4 766.0 L766.5 770.0Z M768.6 770.0 L768.7 766.9 L769.0 763.8 L769.4 760.8 L770.0 757.7 L770.7 754.6 L771.5 751.5 L772.5 748.4 L773.0 751.5 L773.4 754.6 L773.8 757.7 L774.0 760.8 L774.3 763.8 L774.4 766.9 L774.5 770.0Z M774.9 770.0 L774.9 766.7 L774.9 763.4 L775.0 760.1 L775.1 756.8 L775.3 753.5 L775.5 750.2 L775.7 747.0 L776.8 750.2 L777.8 753.5 L778.7 756.8 L779.4 760.1 L780.0 763.4 L780.4 766.7 L780.5 770.0Z M780.2 770.0 L780.4 766.9 L780.9 763.7 L781.6 760.6 L782.6 757.4 L783.8 754.3 L785.1 751.1 L786.6 748.0 L787.0 751.1 L787.4 754.3 L787.7 757.4 L787.9 760.6 L788.1 763.7 L788.2 766.9 L788.2 770.0Z M786.6 770.0 L786.6 766.8 L786.6 763.6 L786.7 760.4 L786.7 757.2 L786.9 754.0 L787.0 750.8 L787.2 747.6 L788.4 750.8 L789.6 754.0 L790.6 757.2 L791.4 760.4 L792.0 763.6 L792.4 766.8 L792.6 770.0Z M791.5 770.0 L791.6 767.0 L791.9 763.9 L792.4 760.9 L793.1 757.9 L793.8 754.9 L794.7 751.8 L795.7 748.8 L796.6 751.8 L797.3 754.9 L797.9 757.9 L798.4 760.9 L798.8 763.9 L799.1 767.0 L799.2 770.0Z M798.5 770.0 L798.6 767.4 L798.8 764.7 L799.2 762.1 L799.7 759.5 L800.3 756.8 L800.9 754.2 L801.7 751.5 L802.4 754.2 L803.0 756.8 L803.6 759.5 L804.0 762.1 L804.3 764.7 L804.5 767.4 L804.6 770.0Z M804.1 770.0 L804.2 767.0 L804.7 764.1 L805.3 761.1 L806.1 758.2 L807.1 755.2 L808.3 752.3 L809.6 749.3 L809.6 752.3 L809.6 755.2 L809.5 758.2 L809.5 761.1 L809.5 764.1 L809.5 767.0 L809.4 770.0Z M810.7 770.0 L810.8 768.5 L810.8 767.0 L811.0 765.4 L811.1 763.9 L811.4 762.4 L811.6 760.9 L811.9 759.4 L813.0 760.9 L814.0 762.4 L814.8 763.9 L815.5 765.4 L816.0 767.0 L816.4 768.5 L816.5 770.0Z M816.1 770.0 L816.3 767.5 L816.8 765.0 L817.5 762.5 L818.5 759.9 L819.7 757.4 L821.0 754.9 L822.6 752.4 L822.8 754.9 L823.1 757.4 L823.3 759.9 L823.4 762.5 L823.5 765.0 L823.6 767.5 L823.6 770.0Z M821.1 770.0 L821.2 766.5 L821.6 763.0 L822.2 759.5 L822.9 756.0 L823.9 752.5 L824.9 749.0 L826.2 745.4 L826.8 749.0 L827.4 752.5 L827.8 756.0 L828.2 759.5 L828.5 763.0 L828.7 766.5 L828.7 770.0Z M827.8 770.0 L827.9 766.4 L828.1 762.9 L828.5 759.3 L828.9 755.7 L829.5 752.1 L830.2 748.6 L831.0 745.0 L832.1 748.6 L833.1 752.1 L833.9 755.7 L834.6 759.3 L835.1 762.9 L835.4 766.4 L835.6 770.0Z M836.6 770.0 L836.6 768.8 L836.7 767.6 L836.8 766.4 L837.0 765.2 L837.2 763.9 L837.4 762.7 L837.7 761.5 L838.7 762.7 L839.6 763.9 L840.3 765.2 L841.0 766.4 L841.4 767.6 L841.8 768.8 L841.9 770.0Z M842.2 770.0 L842.4 768.1 L842.9 766.2 L843.6 764.3 L844.5 762.3 L845.7 760.4 L847.0 758.5 L848.4 756.6 L848.7 758.5 L848.9 760.4 L849.1 762.3 L849.2 764.3 L849.3 766.2 L849.4 768.1 L849.4 770.0Z M850.5 770.0 L850.6 767.5 L850.8 765.1 L851.2 762.6 L851.6 760.2 L852.1 757.7 L852.7 755.2 L853.4 752.8 L854.0 755.2 L854.4 757.7 L854.8 760.2 L855.2 762.6 L855.4 765.1 L855.6 767.5 L855.7 770.0Z M855.8 770.0 L856.0 768.7 L856.2 767.3 L856.7 766.0 L857.3 764.7 L857.9 763.3 L858.7 762.0 L859.7 760.6 L860.2 762.0 L860.6 763.3 L861.0 764.7 L861.3 766.0 L861.5 767.3 L861.7 768.7 L861.7 770.0Z M861.9 770.0 L862.0 768.0 L862.3 765.9 L862.7 763.9 L863.3 761.9 L864.0 759.9 L864.8 757.8 L865.7 755.8 L866.1 757.8 L866.4 759.9 L866.7 761.9 L866.9 763.9 L867.1 765.9 L867.2 768.0 L867.2 770.0Z M868.3 770.0 L868.3 767.8 L868.5 765.7 L868.7 763.5 L869.1 761.4 L869.5 759.2 L869.9 757.1 L870.4 754.9 L871.3 757.1 L872.0 759.2 L872.7 761.4 L873.2 763.5 L873.6 765.7 L873.8 767.8 L874.0 770.0Z M872.2 770.0 L872.3 767.2 L872.6 764.3 L873.0 761.5 L873.6 758.6 L874.2 755.8 L875.0 753.0 L875.9 750.1 L876.9 753.0 L877.8 755.8 L878.6 758.6 L879.2 761.5 L879.6 764.3 L880.0 767.2 L880.1 770.0Z M880.9 770.0 L881.0 767.6 L881.0 765.2 L881.2 762.7 L881.4 760.3 L881.6 757.9 L881.9 755.5 L882.2 753.1 L883.3 755.5 L884.2 757.9 L885.0 760.3 L885.7 762.7 L886.2 765.2 L886.5 767.6 L886.7 770.0Z M887.7 770.0 L887.7 767.2 L887.7 764.4 L887.7 761.5 L887.7 758.7 L887.8 755.9 L887.9 753.1 L888.0 750.2 L889.5 753.1 L890.8 755.9 L891.9 758.7 L892.8 761.5 L893.5 764.4 L894.0 767.2 L894.2 770.0Z M893.3 770.0 L893.4 767.1 L893.8 764.1 L894.4 761.2 L895.1 758.2 L896.0 755.3 L897.0 752.3 L898.2 749.4 L898.9 752.3 L899.5 755.3 L900.0 758.2 L900.5 761.2 L900.8 764.1 L901.0 767.1 L901.1 770.0Z M898.8 770.0 L898.8 767.2 L899.1 764.4 L899.4 761.7 L899.9 758.9 L900.4 756.1 L901.1 753.3 L901.8 750.6 L902.8 753.3 L903.6 756.1 L904.3 758.9 L904.9 761.7 L905.4 764.4 L905.7 767.2 L905.8 770.0Z M906.9 770.0 L906.9 768.1 L907.2 766.3 L907.5 764.4 L907.9 762.6 L908.4 760.7 L909.0 758.8 L909.7 757.0 L910.4 758.8 L911.0 760.7 L911.5 762.6 L911.9 764.4 L912.2 766.3 L912.4 768.1 L912.5 770.0Z M912.8 770.0 L912.8 768.3 L912.9 766.6 L913.0 764.9 L913.2 763.2 L913.4 761.4 L913.7 759.7 L914.0 758.0 L915.0 759.7 L916.0 761.4 L916.8 763.2 L917.4 764.9 L917.9 766.6 L918.3 768.3 L918.4 770.0Z M918.7 770.0 L918.8 768.1 L919.0 766.2 L919.3 764.3 L919.7 762.3 L920.2 760.4 L920.8 758.5 L921.5 756.6 L922.1 758.5 L922.7 760.4 L923.2 762.3 L923.7 764.3 L924.0 766.2 L924.2 768.1 L924.3 770.0Z M925.0 770.0 L925.2 766.8 L925.6 763.5 L926.3 760.3 L927.1 757.0 L928.0 753.8 L929.2 750.5 L930.4 747.3 L930.5 750.5 L930.5 753.8 L930.5 757.0 L930.5 760.3 L930.5 763.5 L930.5 766.8 L930.5 770.0Z M930.8 770.0 L930.8 767.5 L930.8 765.0 L930.9 762.5 L930.9 760.0 L931.0 757.5 L931.1 755.0 L931.2 752.5 L932.4 755.0 L933.3 757.5 L934.2 760.0 L934.9 762.5 L935.4 765.0 L935.8 767.5 L936.0 770.0Z M936.0 770.0 L936.2 767.3 L936.6 764.6 L937.3 761.9 L938.2 759.2 L939.2 756.5 L940.5 753.8 L941.9 751.1 L942.2 753.8 L942.5 756.5 L942.7 759.2 L942.9 761.9 L943.1 764.6 L943.1 767.3 L943.2 770.0Z M943.5 770.0 L943.5 765.9 L943.6 761.8 L943.9 757.7 L944.1 753.6 L944.5 749.6 L945.0 745.5 L945.5 741.4 L946.8 745.5 L948.1 749.6 L949.1 753.6 L950.0 757.7 L950.6 761.8 L951.1 765.9 L951.3 770.0Z M949.4 770.0 L949.5 766.7 L949.6 763.4 L949.9 760.2 L950.2 756.9 L950.6 753.6 L951.1 750.3 L951.7 747.0 L952.6 750.3 L953.4 753.6 L954.1 756.9 L954.7 760.2 L955.1 763.4 L955.4 766.7 L955.5 770.0Z M954.9 770.0 L955.0 765.1 L955.1 760.2 L955.3 755.3 L955.5 750.4 L955.8 745.5 L956.2 740.6 L956.6 735.7 L957.7 740.6 L958.6 745.5 L959.4 750.4 L960.0 755.3 L960.5 760.2 L960.8 765.1 L961.0 770.0Z M960.3 770.0 L960.3 767.4 L960.4 764.9 L960.5 762.3 L960.7 759.7 L961.0 757.1 L961.2 754.6 L961.6 752.0 L962.7 754.6 L963.7 757.1 L964.6 759.7 L965.3 762.3 L965.8 764.9 L966.2 767.4 L966.4 770.0Z M967.6 770.0 L967.6 766.1 L967.6 762.3 L967.6 758.4 L967.7 754.5 L967.8 750.6 L967.9 746.8 L968.1 742.9 L969.5 746.8 L970.7 750.6 L971.8 754.5 L972.7 758.4 L973.3 762.3 L973.8 766.1 L974.0 770.0Z M974.7 770.0 L974.8 765.5 L975.0 761.1 L975.4 756.6 L975.8 752.1 L976.3 747.7 L977.0 743.2 L977.7 738.7 L978.9 743.2 L979.8 747.7 L980.7 752.1 L981.4 756.6 L981.9 761.1 L982.3 765.5 L982.4 770.0Z M982.2 770.0 L982.4 767.0 L982.7 764.1 L983.2 761.1 L983.8 758.1 L984.5 755.1 L985.4 752.2 L986.4 749.2 L986.6 752.2 L986.9 755.1 L987.0 758.1 L987.2 761.1 L987.3 764.1 L987.3 767.0 L987.3 770.0Z M986.4 770.0 L986.4 767.3 L986.6 764.6 L986.8 761.8 L987.1 759.1 L987.5 756.4 L988.0 753.7 L988.5 751.0 L989.7 753.7 L990.8 756.4 L991.7 759.1 L992.5 761.8 L993.0 764.6 L993.4 767.3 L993.6 770.0Z M992.6 770.0 L992.8 765.7 L993.3 761.4 L994.0 757.1 L994.9 752.8 L996.0 748.5 L997.3 744.2 L998.7 739.9 L998.9 744.2 L999.1 748.5 L999.2 752.8 L999.3 757.1 L999.4 761.4 L999.4 765.7 L999.4 770.0Z M1000.6 770.0 L1000.7 765.8 L1000.7 761.6 L1000.9 757.4 L1001.0 753.2 L1001.2 749.0 L1001.5 744.8 L1001.8 740.6 L1002.7 744.8 L1003.5 749.0 L1004.2 753.2 L1004.8 757.4 L1005.2 761.6 L1005.5 765.8 L1005.6 770.0Z M1008.4 770.0 L1008.5 766.6 L1008.9 763.1 L1009.5 759.7 L1010.3 756.2 L1011.2 752.8 L1012.3 749.3 L1013.5 745.9 L1013.6 749.3 L1013.5 752.8 L1013.5 756.2 L1013.5 759.7 L1013.5 763.1 L1013.4 766.6 L1013.4 770.0Z M1014.2 770.0 L1014.4 767.3 L1014.9 764.7 L1015.6 762.0 L1016.4 759.3 L1017.5 756.6 L1018.7 754.0 L1020.0 751.3 L1020.2 754.0 L1020.3 756.6 L1020.3 759.3 L1020.4 762.0 L1020.4 764.7 L1020.4 767.3 L1020.4 770.0Z M1020.8 770.0 L1021.0 766.2 L1021.4 762.5 L1022.0 758.7 L1022.8 755.0 L1023.8 751.2 L1024.9 747.5 L1026.2 743.7 L1026.3 747.5 L1026.3 751.2 L1026.4 755.0 L1026.4 758.7 L1026.4 762.5 L1026.4 766.2 L1026.4 770.0Z"/>
<path fill="#9fd37c" d="M60.5 770.0 L60.6 759.7 L60.9 749.4 L61.3 739.1 L61.8 728.9 L62.4 718.6 L63.2 708.3 L64.0 698.0 L64.4 708.3 L64.7 718.6 L65.0 728.9 L65.2 739.1 L65.4 749.4 L65.5 759.7 L65.5 770.0Z M64.0 770.0 L64.2 760.3 L64.8 750.6 L65.6 740.9 L66.6 731.3 L67.8 721.6 L69.3 711.9 L71.0 702.2 L72.0 711.9 L72.8 721.6 L73.6 731.3 L74.2 740.9 L74.6 750.6 L74.9 760.3 L75.0 770.0Z M558.5 770.0 L558.5 760.5 L558.5 751.0 L558.4 741.5 L558.4 732.1 L558.4 722.6 L558.4 713.1 L558.4 703.6 L559.6 713.1 L560.7 722.6 L561.6 732.1 L562.3 741.5 L562.9 751.0 L563.3 760.5 L563.5 770.0Z M563.0 770.0 L563.1 760.0 L563.5 750.0 L564.1 740.0 L564.9 730.1 L565.9 720.1 L567.0 710.1 L568.3 700.1 L570.4 710.1 L572.2 720.1 L573.8 730.1 L575.1 740.0 L576.1 750.0 L576.7 760.0 L577.0 770.0Z M573.0 770.0 L573.1 762.3 L573.3 754.7 L573.7 747.0 L574.1 739.3 L574.6 731.6 L575.3 724.0 L576.0 716.3 L576.7 724.0 L577.4 731.6 L577.9 739.3 L578.3 747.0 L578.7 754.7 L578.9 762.3 L579.0 770.0Z M736.5 770.0 L736.6 758.6 L736.7 747.2 L736.9 735.8 L737.2 724.4 L737.6 713.0 L738.0 701.6 L738.5 690.2 L739.2 701.6 L739.9 713.0 L740.4 724.4 L740.8 735.8 L741.2 747.2 L741.4 758.6 L741.5 770.0Z M743.5 770.0 L743.5 758.4 L743.7 746.8 L743.9 735.2 L744.2 723.6 L744.5 712.0 L745.0 700.4 L745.5 688.8 L747.2 700.4 L748.6 712.0 L749.9 723.6 L750.9 735.2 L751.7 746.8 L752.3 758.4 L752.5 770.0Z M831.5 770.0 L831.6 761.1 L831.9 752.1 L832.3 743.2 L832.8 734.3 L833.4 725.4 L834.2 716.4 L835.0 707.5 L835.4 716.4 L835.7 725.4 L836.0 734.3 L836.2 743.2 L836.4 752.1 L836.5 761.1 L836.5 770.0Z M835.0 770.0 L835.2 761.7 L835.8 753.3 L836.6 745.0 L837.6 736.7 L838.8 728.4 L840.3 720.0 L842.0 711.7 L843.0 720.0 L843.8 728.4 L844.6 736.7 L845.2 745.0 L845.6 753.3 L845.9 761.7 L846.0 770.0Z"/>
<path fill="url(#gg)" d="M-1.5 770.0 L-1.4 762.9 L-1.2 755.9 L-0.9 748.8 L-0.4 741.7 L0.1 734.6 L0.7 727.6 L1.4 720.5 L1.9 727.6 L2.4 734.6 L2.7 741.7 L3.1 748.8 L3.3 755.9 L3.4 762.9 L3.5 770.0Z M0.5 770.0 L0.7 759.2 L1.1 748.4 L1.7 737.6 L2.5 726.9 L3.5 716.1 L4.6 705.3 L5.9 694.5 L7.0 705.3 L8.0 716.1 L8.8 726.9 L9.5 737.6 L10.0 748.4 L10.4 759.2 L10.5 770.0Z M6.5 770.0 L6.7 759.4 L7.1 748.8 L7.7 738.2 L8.5 727.7 L9.5 717.1 L10.7 706.5 L12.0 695.9 L13.3 706.5 L14.5 717.1 L15.5 727.7 L16.3 738.2 L16.9 748.8 L17.3 759.4 L17.5 770.0Z M14.5 770.0 L14.6 759.0 L14.8 748.0 L15.0 737.0 L15.4 726.0 L15.8 715.0 L16.3 704.0 L16.9 693.0 L17.5 704.0 L18.1 715.0 L18.5 726.0 L18.9 737.0 L19.2 748.0 L19.4 759.0 L19.5 770.0Z M18.0 770.0 L18.2 761.2 L18.8 752.4 L19.6 743.6 L20.6 734.9 L21.9 726.1 L23.4 717.3 L25.0 708.5 L24.8 717.3 L24.6 726.1 L24.4 734.9 L24.3 743.6 L24.2 752.4 L24.1 761.2 L24.0 770.0Z M25.0 770.0 L25.0 763.7 L25.2 757.4 L25.3 751.1 L25.6 744.9 L25.9 738.6 L26.3 732.3 L26.7 726.0 L27.7 732.3 L28.6 738.6 L29.4 744.9 L30.0 751.1 L30.5 757.4 L30.9 763.7 L31.0 770.0Z M33.0 770.0 L33.2 764.5 L33.6 759.1 L34.1 753.6 L34.9 748.1 L35.8 742.6 L36.8 737.2 L38.0 731.7 L38.3 737.2 L38.5 742.6 L38.7 748.1 L38.8 753.6 L38.9 759.1 L39.0 764.5 L39.0 770.0Z M42.5 770.0 L42.6 760.9 L42.9 751.8 L43.4 742.7 L44.0 733.7 L44.7 724.6 L45.5 715.5 L46.4 706.4 L46.7 715.5 L46.9 724.6 L47.1 733.7 L47.3 742.7 L47.4 751.8 L47.5 760.9 L47.5 770.0Z M45.3 770.0 L45.3 755.9 L45.3 741.8 L45.3 727.7 L45.4 713.6 L45.5 699.5 L45.6 685.4 L45.7 671.3 L49.5 685.4 L52.5 699.5 L54.6 713.6 L56.0 727.7 L56.9 741.8 L57.2 755.9 L57.3 770.0Z M62.0 770.0 L62.2 762.3 L62.6 754.6 L63.1 746.9 L63.9 739.1 L64.8 731.4 L65.8 723.7 L67.0 716.0 L66.8 723.7 L66.6 731.4 L66.4 739.1 L66.3 746.9 L66.1 754.6 L66.0 762.3 L66.0 770.0Z M74.1 770.0 L74.2 758.9 L74.3 747.8 L74.5 736.7 L74.8 725.6 L75.1 714.5 L75.5 703.4 L76.0 692.3 L76.7 703.4 L77.4 714.5 L78.0 725.6 L78.4 736.7 L78.8 747.8 L79.0 758.9 L79.1 770.0Z M77.0 770.0 L77.3 761.2 L77.8 752.4 L78.7 743.6 L79.8 734.9 L81.1 726.1 L82.7 717.3 L84.4 708.5 L84.1 717.3 L83.8 726.1 L83.6 734.9 L83.4 743.6 L83.2 752.4 L83.1 761.2 L83.0 770.0Z M83.5 770.0 L83.5 763.7 L83.6 757.4 L83.8 751.1 L84.0 744.9 L84.3 738.6 L84.6 732.3 L85.0 726.0 L85.8 732.3 L86.6 738.6 L87.2 744.9 L87.7 751.1 L88.1 757.4 L88.4 763.7 L88.5 770.0Z M91.0 770.0 L90.9 763.7 L90.8 757.4 L90.7 751.1 L90.6 744.9 L90.4 738.6 L90.2 732.3 L90.0 726.0 L91.6 732.3 L93.1 738.6 L94.4 744.9 L95.4 751.1 L96.2 757.4 L96.8 763.7 L97.0 770.0Z M95.5 770.0 L95.5 762.1 L95.6 754.3 L95.8 746.4 L96.0 738.5 L96.3 730.6 L96.6 722.8 L97.0 714.9 L98.1 722.8 L99.0 730.6 L99.8 738.5 L100.5 746.4 L101.0 754.3 L101.4 762.1 L101.5 770.0Z M98.5 770.0 L98.6 760.5 L98.9 751.0 L99.4 741.5 L99.9 732.1 L100.6 722.6 L101.5 713.1 L102.4 703.6 L103.2 713.1 L103.8 722.6 L104.4 732.1 L104.8 741.5 L105.2 751.0 L105.4 760.5 L105.5 770.0Z M104.5 770.0 L104.5 762.9 L104.6 755.9 L104.7 748.8 L104.8 741.7 L105.0 734.6 L105.2 727.6 L105.5 720.5 L106.9 727.6 L108.2 734.6 L109.3 741.7 L110.1 748.8 L110.8 755.9 L111.3 762.9 L111.5 770.0Z M108.5 770.0 L108.7 761.1 L109.3 752.2 L110.0 743.3 L111.0 734.5 L112.3 725.6 L113.7 716.7 L115.3 707.8 L115.6 716.7 L115.9 725.6 L116.1 734.5 L116.3 743.3 L116.4 752.2 L116.5 761.1 L116.5 770.0Z M117.0 770.0 L117.4 762.5 L118.2 755.1 L119.4 747.6 L120.9 740.1 L122.7 732.6 L124.9 725.2 L127.3 717.7 L126.8 725.2 L126.4 732.6 L126.0 740.1 L125.6 747.6 L125.3 755.1 L125.1 762.5 L125.0 770.0Z M123.5 770.0 L123.7 761.1 L124.2 752.2 L124.8 743.3 L125.7 734.5 L126.8 725.6 L128.0 716.7 L129.4 707.8 L129.2 716.7 L129.1 725.6 L128.9 734.5 L128.8 743.3 L128.6 752.2 L128.5 761.1 L128.5 770.0Z M130.0 770.0 L130.1 763.7 L130.4 757.4 L130.8 751.1 L131.3 744.9 L132.0 738.6 L132.7 732.3 L133.6 726.0 L134.2 732.3 L134.7 738.6 L135.1 744.9 L135.5 751.1 L135.8 757.4 L135.9 763.7 L136.0 770.0Z M137.0 770.0 L137.0 764.5 L137.1 759.1 L137.3 753.6 L137.5 748.1 L137.8 742.6 L138.1 737.2 L138.5 731.7 L139.6 737.2 L140.5 742.6 L141.3 748.1 L142.0 753.6 L142.5 759.1 L142.9 764.5 L143.0 770.0Z M146.5 770.0 L146.6 762.2 L146.7 754.4 L147.0 746.6 L147.4 738.9 L147.8 731.1 L148.4 723.3 L149.0 715.5 L150.1 723.3 L151.0 731.1 L151.8 738.9 L152.5 746.6 L153.0 754.4 L153.4 762.2 L153.5 770.0Z M158.0 770.0 L157.8 760.1 L157.5 750.2 L157.0 740.3 L156.4 730.5 L155.7 720.6 L154.9 710.7 L154.0 700.8 L156.3 710.7 L158.4 720.6 L160.2 730.5 L161.7 740.3 L162.9 750.2 L163.7 760.1 L164.0 770.0Z M160.0 770.0 L160.0 760.9 L160.2 751.8 L160.4 742.7 L160.6 733.7 L161.0 724.6 L161.3 715.5 L161.8 706.4 L162.8 715.5 L163.7 724.6 L164.4 733.7 L165.1 742.7 L165.5 751.8 L165.9 760.9 L166.0 770.0Z M164.0 770.0 L164.1 758.5 L164.4 747.0 L164.8 735.5 L165.4 724.0 L166.1 712.5 L167.0 701.0 L168.0 689.5 L170.4 701.0 L172.5 712.5 L174.3 724.0 L175.8 735.5 L176.9 747.0 L177.7 758.5 L178.0 770.0Z M176.5 770.0 L176.6 759.1 L176.9 748.2 L177.3 737.3 L177.8 726.4 L178.4 715.5 L179.2 704.6 L180.0 693.7 L180.4 704.6 L180.7 715.5 L181.0 726.4 L181.2 737.3 L181.4 748.2 L181.5 759.1 L181.5 770.0Z M181.5 770.0 L181.8 761.4 L182.4 752.9 L183.2 744.3 L184.3 735.7 L185.7 727.1 L187.2 718.6 L189.0 710.0 L188.5 718.6 L188.0 727.1 L187.5 735.7 L187.1 744.3 L186.8 752.9 L186.6 761.4 L186.5 770.0Z M191.0 770.0 L190.9 763.9 L190.7 757.9 L190.4 751.8 L190.0 745.7 L189.5 739.6 L189.0 733.6 L188.5 727.5 L190.5 733.6 L192.3 739.6 L193.8 745.7 L195.0 751.8 L196.0 757.9 L196.7 763.9 L197.0 770.0Z M196.0 770.0 L196.0 764.3 L196.1 758.6 L196.3 752.9 L196.6 747.1 L196.8 741.4 L197.2 735.7 L197.6 730.0 L198.6 735.7 L199.6 741.4 L200.4 747.1 L201.0 752.9 L201.5 758.6 L201.9 764.3 L202.0 770.0Z M200.5 770.0 L200.6 761.9 L200.7 753.8 L200.9 745.7 L201.2 737.7 L201.6 729.6 L202.0 721.5 L202.5 713.4 L203.7 721.5 L204.7 729.6 L205.6 737.7 L206.4 745.7 L207.0 753.8 L207.3 761.9 L207.5 770.0Z M206.5 770.0 L206.6 762.2 L206.7 754.4 L207.0 746.6 L207.4 738.9 L207.8 731.1 L208.3 723.3 L208.9 715.5 L210.0 723.3 L211.0 731.1 L211.8 738.9 L212.5 746.6 L213.0 754.4 L213.4 762.2 L213.5 770.0Z M215.5 770.0 L215.4 760.1 L215.1 750.2 L214.7 740.3 L214.2 730.5 L213.7 720.6 L213.1 710.7 L212.4 700.8 L215.2 710.7 L217.8 720.6 L219.9 730.5 L221.7 740.3 L223.1 750.2 L224.1 760.1 L224.5 770.0Z M201.0 770.0 L201.1 763.1 L201.4 756.3 L201.9 749.4 L202.4 742.6 L203.2 735.7 L204.0 728.9 L205.0 722.0 L206.4 728.9 L207.7 735.7 L208.8 742.6 L209.7 749.4 L210.4 756.3 L210.8 763.1 L211.0 770.0Z M210.5 770.0 L210.6 762.9 L211.0 755.7 L211.5 748.6 L212.1 741.4 L213.0 734.3 L213.9 727.1 L215.0 720.0 L216.1 727.1 L217.0 734.3 L217.9 741.4 L218.5 748.6 L219.0 755.7 L219.4 762.9 L219.5 770.0Z M171.0 770.0 L171.2 762.3 L171.5 754.6 L172.1 746.9 L172.8 739.1 L173.7 731.4 L174.8 723.7 L176.0 716.0 L176.7 723.7 L177.4 731.4 L177.9 739.1 L178.4 746.9 L178.7 754.6 L178.9 762.3 L179.0 770.0Z M153.0 770.0 L153.1 763.1 L153.4 756.3 L153.9 749.4 L154.5 742.6 L155.2 735.7 L156.0 728.9 L157.0 722.0 L158.0 728.9 L158.8 735.7 L159.5 742.6 L160.1 749.4 L160.6 756.3 L160.9 763.1 L161.0 770.0Z M221.5 770.0 L221.6 759.2 L222.0 748.4 L222.6 737.6 L223.5 726.8 L224.5 716.0 L225.6 705.2 L227.0 694.4 L229.5 705.2 L231.7 716.0 L233.6 726.8 L235.2 737.6 L236.4 748.4 L237.2 759.2 L237.5 770.0Z M233.0 770.0 L233.0 759.9 L233.0 749.8 L233.1 739.7 L233.1 729.7 L233.2 719.6 L233.3 709.5 L233.5 699.4 L234.8 709.5 L236.0 719.6 L236.9 729.7 L237.8 739.7 L238.4 749.8 L238.8 759.9 L239.0 770.0Z M238.0 770.0 L237.9 758.1 L237.6 746.2 L237.2 734.3 L236.7 722.4 L236.2 710.5 L235.6 698.6 L234.9 686.7 L238.0 698.6 L240.7 710.5 L243.0 722.4 L245.0 734.3 L246.5 746.2 L247.6 758.1 L248.0 770.0Z M243.0 770.0 L243.1 758.4 L243.3 746.8 L243.6 735.2 L244.0 723.6 L244.6 712.0 L245.2 700.4 L246.0 688.8 L248.1 700.4 L250.0 712.0 L251.7 723.6 L253.0 735.2 L254.0 746.8 L254.7 758.4 L255.0 770.0Z M252.0 770.0 L252.1 761.1 L252.3 752.2 L252.7 743.3 L253.1 734.5 L253.6 725.6 L254.3 716.7 L255.0 707.8 L255.7 716.7 L256.4 725.6 L256.9 734.5 L257.3 743.3 L257.7 752.2 L257.9 761.1 L258.0 770.0Z M248.0 770.0 L248.5 756.9 L249.5 743.8 L251.2 730.7 L253.3 717.6 L255.9 704.5 L258.9 691.4 L262.3 678.3 L264.2 691.4 L265.9 704.5 L267.3 717.6 L268.4 730.7 L269.2 743.8 L269.8 756.9 L270.0 770.0Z M273.0 770.0 L272.9 761.1 L272.8 752.2 L272.7 743.3 L272.6 734.5 L272.5 725.6 L272.3 716.7 L272.2 707.8 L274.7 716.7 L277.0 725.6 L278.9 734.5 L280.5 743.3 L281.8 752.2 L282.6 761.1 L283.0 770.0Z M283.5 770.0 L283.5 759.6 L283.6 749.2 L283.7 738.8 L283.9 728.5 L284.1 718.1 L284.4 707.7 L284.8 697.3 L286.6 707.7 L288.2 718.1 L289.6 728.5 L290.8 738.8 L291.6 749.2 L292.2 759.6 L292.5 770.0Z M301.0 770.0 L300.6 756.7 L299.7 743.4 L298.5 730.1 L296.9 716.8 L295.0 703.5 L292.9 690.2 L290.5 676.9 L294.3 690.2 L297.7 703.5 L300.7 716.8 L303.2 730.1 L305.1 743.4 L306.4 756.7 L307.0 770.0Z M302.5 770.0 L302.6 756.8 L303.0 743.6 L303.5 730.4 L304.2 717.2 L305.1 704.0 L306.1 690.8 L307.3 677.6 L309.7 690.8 L311.9 704.0 L313.7 717.2 L315.2 730.4 L316.4 743.6 L317.2 756.8 L317.5 770.0Z M313.0 770.0 L313.0 757.6 L313.0 745.2 L313.1 732.8 L313.2 720.4 L313.3 708.0 L313.5 695.6 L313.7 683.2 L315.0 695.6 L316.1 708.0 L317.0 720.4 L317.8 732.8 L318.4 745.2 L318.8 757.6 L319.0 770.0Z M310.5 770.0 L310.8 758.6 L311.7 747.2 L312.9 735.8 L314.5 724.4 L316.5 713.0 L318.8 701.6 L321.4 690.2 L323.6 701.6 L325.6 713.0 L327.2 724.4 L328.5 735.8 L329.6 747.2 L330.2 758.6 L330.5 770.0Z M321.5 770.0 L321.8 757.8 L322.6 745.6 L323.7 733.4 L325.2 721.2 L326.9 709.0 L328.9 696.8 L331.2 684.6 L330.1 696.8 L329.2 709.0 L328.4 721.2 L327.7 733.4 L327.1 745.6 L326.7 757.8 L326.5 770.0Z M332.5 770.0 L332.5 761.2 L332.4 752.4 L332.3 743.6 L332.2 734.9 L332.1 726.1 L332.1 717.3 L332.0 708.5 L334.2 717.3 L336.2 726.1 L337.9 734.9 L339.3 743.6 L340.4 752.4 L341.2 761.2 L341.5 770.0Z M341.5 770.0 L341.7 763.0 L342.2 756.1 L343.0 749.1 L344.0 742.1 L345.2 735.1 L346.5 728.2 L348.1 721.2 L348.2 728.2 L348.3 735.1 L348.4 742.1 L348.5 749.1 L348.5 756.1 L348.5 763.0 L348.5 770.0Z M351.0 770.0 L351.2 758.8 L351.9 747.6 L352.8 736.4 L354.0 725.2 L355.4 714.0 L357.1 702.8 L359.1 691.6 L360.8 702.8 L362.2 714.0 L363.5 725.2 L364.5 736.4 L365.3 747.6 L365.8 758.8 L366.0 770.0Z M367.0 770.0 L367.8 757.8 L369.5 745.7 L372.0 733.5 L375.2 721.3 L379.0 709.1 L383.5 697.0 L388.5 684.8 L385.9 697.0 L383.6 709.1 L381.5 721.3 L379.8 733.5 L378.4 745.7 L377.5 757.8 L377.0 770.0Z M387.2 770.0 L387.5 761.5 L388.1 753.0 L389.0 744.5 L390.1 736.1 L391.5 727.6 L393.1 719.1 L395.0 710.6 L395.3 719.1 L395.6 727.6 L395.8 736.1 L396.0 744.5 L396.1 753.0 L396.2 761.5 L396.2 770.0Z M397.0 770.0 L397.2 765.4 L397.7 760.9 L398.4 756.3 L399.3 751.7 L400.3 747.1 L401.6 742.6 L403.0 738.0 L403.0 742.6 L403.1 747.1 L403.1 751.7 L403.1 756.3 L403.0 760.9 L403.0 765.4 L403.0 770.0Z M405.0 770.0 L405.1 765.5 L405.2 761.1 L405.4 756.6 L405.7 752.2 L406.1 747.7 L406.5 743.3 L407.0 738.8 L407.5 743.3 L407.9 747.7 L408.3 752.2 L408.6 756.6 L408.8 761.1 L408.9 765.5 L409.0 770.0Z M411.5 770.0 L411.4 764.0 L411.3 758.1 L411.1 752.1 L410.8 746.1 L410.6 740.1 L410.3 734.2 L410.0 728.2 L412.0 734.2 L413.8 740.1 L415.3 746.1 L416.6 752.1 L417.5 758.1 L418.2 764.0 L418.5 770.0Z M419.9 770.0 L419.8 764.2 L419.6 758.5 L419.3 752.7 L419.0 746.9 L418.6 741.1 L418.2 735.4 L417.8 729.6 L419.9 735.4 L421.8 741.1 L423.5 746.9 L424.8 752.7 L425.9 758.5 L426.6 764.2 L426.9 770.0Z M426.4 770.0 L426.4 762.0 L426.5 754.0 L426.7 746.0 L426.9 738.1 L427.2 730.1 L427.5 722.1 L427.9 714.1 L429.4 722.1 L430.8 730.1 L432.0 738.1 L432.9 746.0 L433.7 754.0 L434.2 762.0 L434.4 770.0Z M440.0 770.0 L439.7 759.9 L439.0 749.8 L438.0 739.7 L436.7 729.7 L435.3 719.6 L433.6 709.5 L431.8 699.4 L435.6 709.5 L438.9 719.6 L441.8 729.7 L444.2 739.7 L446.1 749.8 L447.4 759.9 L448.0 770.0Z M439.5 770.0 L439.6 762.6 L439.9 755.3 L440.4 747.9 L441.0 740.5 L441.8 733.1 L442.7 725.8 L443.8 718.4 L445.9 725.8 L447.7 733.1 L449.3 740.5 L450.6 747.9 L451.6 755.3 L452.2 762.6 L452.5 770.0Z M452.0 770.0 L452.1 761.6 L452.5 753.2 L453.0 744.8 L453.6 736.5 L454.4 728.1 L455.4 719.7 L456.4 711.3 L456.8 719.7 L457.2 728.1 L457.4 736.5 L457.7 744.8 L457.9 753.2 L458.0 761.6 L458.0 770.0Z M455.0 770.0 L455.3 761.2 L456.0 752.4 L457.0 743.6 L458.4 734.9 L460.0 726.1 L461.8 717.3 L463.9 708.5 L463.5 717.3 L463.1 726.1 L462.8 734.9 L462.5 743.6 L462.3 752.4 L462.1 761.2 L462.0 770.0Z M463.5 770.0 L463.5 763.7 L463.6 757.5 L463.8 751.2 L464.0 744.9 L464.2 738.6 L464.5 732.4 L464.9 726.1 L466.2 732.4 L467.4 738.6 L468.4 744.9 L469.2 751.2 L469.9 757.5 L470.3 763.7 L470.5 770.0Z M471.7 770.0 L471.9 764.3 L472.3 758.7 L472.9 753.0 L473.6 747.3 L474.5 741.6 L475.6 736.0 L476.8 730.3 L477.0 736.0 L477.2 741.6 L477.4 747.3 L477.5 753.0 L477.6 758.7 L477.7 764.3 L477.7 770.0Z M479.3 770.0 L479.5 761.8 L479.9 753.6 L480.5 745.4 L481.4 737.3 L482.4 729.1 L483.6 720.9 L485.0 712.7 L486.5 720.9 L487.9 729.1 L489.0 737.3 L489.9 745.4 L490.6 753.6 L491.1 761.8 L491.3 770.0Z M490.0 770.0 L490.1 762.7 L490.4 755.5 L490.8 748.2 L491.4 740.9 L492.0 733.6 L492.8 726.4 L493.7 719.1 L494.3 726.4 L494.8 733.6 L495.2 740.9 L495.5 748.2 L495.8 755.5 L495.9 762.7 L496.0 770.0Z M495.3 770.0 L495.8 761.9 L496.8 753.8 L498.3 745.7 L500.3 737.7 L502.7 729.6 L505.4 721.5 L508.5 713.4 L507.3 721.5 L506.3 729.6 L505.4 737.7 L504.6 745.7 L504.0 753.8 L503.5 761.9 L503.3 770.0Z M503.4 770.0 L503.7 764.7 L504.3 759.5 L505.2 754.2 L506.4 748.9 L507.8 743.6 L509.4 738.4 L511.3 733.1 L510.9 738.4 L510.5 743.6 L510.2 748.9 L509.9 754.2 L509.7 759.5 L509.5 764.7 L509.4 770.0Z M509.5 770.0 L509.6 763.7 L509.9 757.5 L510.3 751.2 L510.8 744.9 L511.5 738.6 L512.2 732.4 L513.1 726.1 L513.5 732.4 L513.8 738.6 L514.0 744.9 L514.2 751.2 L514.4 757.5 L514.5 763.7 L514.5 770.0Z M513.0 770.0 L513.4 765.3 L514.2 760.7 L515.4 756.0 L516.9 751.4 L518.8 746.7 L520.9 742.1 L523.3 737.4 L522.3 742.1 L521.5 746.7 L520.7 751.4 L520.1 756.0 L519.6 760.7 L519.2 765.3 L519.0 770.0Z M527.0 770.0 L526.9 765.4 L526.6 760.9 L526.2 756.3 L525.8 751.7 L525.3 747.1 L524.7 742.6 L524.0 738.0 L526.1 742.6 L528.0 747.1 L529.6 751.7 L530.9 756.3 L532.0 760.9 L532.7 765.4 L533.0 770.0Z M532.0 770.0 L531.8 763.7 L531.5 757.5 L531.0 751.2 L530.5 744.9 L529.8 738.6 L529.0 732.4 L528.2 726.1 L530.5 732.4 L532.5 738.6 L534.3 744.9 L535.7 751.2 L536.9 757.5 L537.7 763.7 L538.0 770.0Z M537.0 770.0 L536.9 762.1 L536.7 754.3 L536.5 746.4 L536.2 738.5 L535.9 730.6 L535.6 722.8 L535.2 714.9 L537.0 722.8 L538.7 730.6 L540.1 738.5 L541.2 746.4 L542.1 754.3 L542.7 762.1 L543.0 770.0Z M537.5 770.0 L537.6 760.7 L537.9 751.4 L538.3 742.1 L538.9 732.9 L539.6 723.6 L540.4 714.3 L541.3 705.0 L542.1 714.3 L542.8 723.6 L543.3 732.9 L543.8 742.1 L544.2 751.4 L544.4 760.7 L544.5 770.0Z M543.5 770.0 L543.6 763.3 L543.7 756.7 L543.9 750.0 L544.2 743.3 L544.6 736.6 L545.0 730.0 L545.5 723.3 L546.2 730.0 L546.9 736.6 L547.4 743.3 L547.8 750.0 L548.2 756.7 L548.4 763.3 L548.5 770.0Z M545.5 770.0 L545.8 761.0 L546.4 752.0 L547.4 743.0 L548.6 734.1 L550.1 725.1 L551.8 716.1 L553.8 707.1 L554.0 716.1 L554.2 725.1 L554.3 734.1 L554.4 743.0 L554.5 752.0 L554.5 761.0 L554.5 770.0Z M576.0 770.0 L576.1 760.4 L576.4 750.8 L576.9 741.2 L577.4 731.7 L578.1 722.1 L579.0 712.5 L579.9 702.9 L580.4 712.5 L580.9 722.1 L581.3 731.7 L581.6 741.2 L581.8 750.8 L581.9 760.4 L582.0 770.0Z M580.0 770.0 L580.2 761.3 L580.8 752.6 L581.6 743.9 L582.7 735.3 L584.0 726.6 L585.5 717.9 L587.2 709.2 L587.0 717.9 L586.7 726.6 L586.5 735.3 L586.3 743.9 L586.2 752.6 L586.1 761.3 L586.0 770.0Z M592.5 770.0 L592.3 763.1 L591.9 756.3 L591.4 749.4 L590.7 742.6 L589.9 735.7 L589.0 728.9 L588.0 722.0 L590.7 728.9 L593.1 735.7 L595.1 742.6 L596.8 749.4 L598.2 756.3 L599.1 763.1 L599.5 770.0Z M600.0 770.0 L599.7 760.3 L599.1 750.6 L598.3 740.9 L597.2 731.3 L595.9 721.6 L594.5 711.9 L592.9 702.2 L596.0 711.9 L598.7 721.6 L601.0 731.3 L603.0 740.9 L604.5 750.6 L605.5 760.3 L606.0 770.0Z M602.0 770.0 L602.1 761.2 L602.3 752.4 L602.6 743.6 L603.0 734.9 L603.5 726.1 L604.1 717.3 L604.8 708.5 L605.8 717.3 L606.7 726.1 L607.5 734.9 L608.1 743.6 L608.5 752.4 L608.9 761.2 L609.0 770.0Z M608.0 770.0 L608.0 756.1 L608.0 742.2 L608.0 728.3 L608.1 714.4 L608.1 700.5 L608.2 686.6 L608.3 672.7 L612.5 686.6 L615.7 700.5 L618.0 714.4 L619.6 728.3 L620.5 742.2 L620.9 756.1 L621.0 770.0Z M615.5 770.0 L615.6 761.3 L615.8 752.6 L616.1 743.9 L616.5 735.3 L617.0 726.6 L617.5 717.9 L618.2 709.2 L619.0 717.9 L619.7 726.6 L620.3 735.3 L620.8 743.9 L621.1 752.6 L621.4 761.3 L621.5 770.0Z M619.5 770.0 L619.9 761.9 L621.0 753.8 L622.5 745.7 L624.4 737.7 L626.7 729.6 L629.3 721.5 L632.3 713.4 L631.0 721.5 L629.8 729.6 L628.8 737.7 L627.9 745.7 L627.2 753.8 L626.7 761.9 L626.5 770.0Z M626.0 770.0 L626.1 764.7 L626.3 759.5 L626.6 754.2 L627.0 748.9 L627.5 743.6 L628.0 738.4 L628.7 733.1 L629.5 738.4 L630.2 743.6 L630.8 748.9 L631.3 754.2 L631.6 759.5 L631.9 764.7 L632.0 770.0Z M632.0 770.0 L632.2 763.3 L632.6 756.7 L633.3 750.0 L634.2 743.3 L635.3 736.6 L636.5 730.0 L637.9 723.3 L638.4 730.0 L638.9 736.6 L639.3 743.3 L639.6 750.0 L639.8 756.7 L639.9 763.3 L640.0 770.0Z M380.0 770.0 L380.2 763.1 L380.6 756.3 L381.3 749.4 L382.2 742.6 L383.3 735.7 L384.6 728.9 L386.0 722.0 L387.0 728.9 L387.8 735.7 L388.6 742.6 L389.1 749.4 L389.6 756.3 L389.9 763.1 L390.0 770.0Z M544.0 770.0 L544.1 762.9 L544.3 755.7 L544.6 748.6 L545.1 741.4 L545.6 734.3 L546.3 727.1 L547.0 720.0 L548.2 727.1 L549.3 734.3 L550.2 741.4 L550.9 748.6 L551.5 755.7 L551.8 762.9 L552.0 770.0Z M554.0 770.0 L554.2 763.4 L554.7 756.9 L555.3 750.3 L556.2 743.7 L557.3 737.1 L558.6 730.6 L560.0 724.0 L560.5 730.6 L560.9 737.1 L561.3 743.7 L561.6 750.3 L561.8 756.9 L562.0 763.4 L562.0 770.0Z M569.0 770.0 L569.2 763.1 L569.5 756.3 L570.1 749.4 L570.8 742.6 L571.7 735.7 L572.8 728.9 L574.0 722.0 L574.7 728.9 L575.4 735.7 L575.9 742.6 L576.4 749.4 L576.7 756.3 L576.9 763.1 L577.0 770.0Z M580.5 770.0 L580.6 763.4 L580.7 756.9 L581.0 750.3 L581.4 743.7 L581.8 737.1 L582.4 730.6 L583.0 724.0 L584.1 730.6 L585.0 737.1 L585.8 743.7 L586.5 750.3 L587.0 756.9 L587.4 763.4 L587.5 770.0Z M594.0 770.0 L594.1 763.0 L594.4 756.0 L594.9 749.0 L595.5 742.0 L596.2 735.0 L597.0 728.0 L598.0 721.0 L599.0 728.0 L599.8 735.0 L600.5 742.0 L601.1 749.0 L601.6 756.0 L601.9 763.0 L602.0 770.0Z M605.0 770.0 L605.2 762.3 L605.5 754.6 L606.1 746.9 L606.8 739.1 L607.7 731.4 L608.8 723.7 L610.0 716.0 L610.7 723.7 L611.4 731.4 L611.9 739.1 L612.4 746.9 L612.7 754.6 L612.9 762.3 L613.0 770.0Z M617.0 770.0 L617.2 763.7 L617.5 757.4 L618.1 751.1 L618.8 744.9 L619.7 738.6 L620.8 732.3 L622.0 726.0 L622.7 732.3 L623.4 738.6 L623.9 744.9 L624.4 751.1 L624.7 757.4 L624.9 763.7 L625.0 770.0Z M672.5 770.0 L672.6 761.1 L672.8 752.3 L673.2 743.4 L673.7 734.6 L674.4 725.7 L675.1 716.9 L676.0 708.0 L677.8 716.9 L679.4 725.7 L680.7 734.6 L681.8 743.4 L682.7 752.3 L683.3 761.1 L683.5 770.0Z M684.0 770.0 L684.1 760.3 L684.4 750.6 L684.9 740.9 L685.4 731.1 L686.2 721.4 L687.0 711.7 L688.0 702.0 L689.4 711.7 L690.7 721.4 L691.8 731.1 L692.7 740.9 L693.4 750.6 L693.8 760.3 L694.0 770.0Z M699.5 770.0 L699.7 760.0 L700.1 750.0 L700.7 740.0 L701.5 730.0 L702.5 720.0 L703.7 710.0 L705.0 700.0 L705.9 710.0 L706.6 720.0 L707.2 730.0 L707.8 740.0 L708.1 750.0 L708.4 760.0 L708.5 770.0Z M718.0 770.0 L718.1 762.3 L718.4 754.6 L718.9 746.9 L719.5 739.1 L720.2 731.4 L721.0 723.7 L722.0 716.0 L723.0 723.7 L723.8 731.4 L724.5 739.1 L725.1 746.9 L725.6 754.6 L725.9 762.3 L726.0 770.0Z M730.0 770.0 L730.2 761.1 L730.5 752.3 L731.1 743.4 L731.8 734.6 L732.7 725.7 L733.8 716.9 L735.0 708.0 L736.2 716.9 L737.3 725.7 L738.2 734.6 L738.9 743.4 L739.5 752.3 L739.8 761.1 L740.0 770.0Z M749.0 770.0 L749.1 763.1 L749.4 756.3 L749.9 749.4 L750.5 742.6 L751.2 735.7 L752.0 728.9 L753.0 722.0 L754.0 728.9 L754.8 735.7 L755.5 742.6 L756.1 749.4 L756.6 756.3 L756.9 763.1 L757.0 770.0Z M641.1 770.0 L641.1 762.0 L641.1 754.0 L641.2 746.0 L641.2 738.1 L641.4 730.1 L641.5 722.1 L641.7 714.1 L643.7 722.1 L645.4 730.1 L647.0 738.1 L648.2 746.0 L649.2 754.0 L649.8 762.0 L650.1 770.0Z M652.5 770.0 L652.4 762.1 L652.2 754.3 L652.0 746.4 L651.7 738.5 L651.3 730.6 L650.9 722.8 L650.5 714.9 L652.6 722.8 L654.5 730.6 L656.1 738.5 L657.4 746.4 L658.5 754.3 L659.2 762.1 L659.5 770.0Z M659.0 770.0 L659.0 762.1 L658.9 754.3 L658.8 746.4 L658.7 738.5 L658.6 730.6 L658.4 722.8 L658.3 714.9 L659.4 722.8 L660.4 730.6 L661.2 738.5 L661.9 746.4 L662.5 754.3 L662.8 762.1 L663.0 770.0Z M661.5 770.0 L661.6 759.5 L661.9 749.0 L662.2 738.5 L662.8 728.1 L663.4 717.6 L664.1 707.1 L665.0 696.6 L666.3 707.1 L667.5 717.6 L668.5 728.1 L669.3 738.5 L669.9 749.0 L670.3 759.5 L670.5 770.0Z M682.5 770.0 L682.0 756.8 L681.0 743.6 L679.5 730.4 L677.7 717.2 L675.5 704.0 L673.0 690.8 L670.2 677.6 L674.7 690.8 L678.7 704.0 L682.1 717.2 L685.0 730.4 L687.3 743.6 L688.8 756.8 L689.5 770.0Z M682.2 770.0 L682.3 757.9 L682.5 745.8 L682.8 733.7 L683.2 721.6 L683.7 709.5 L684.3 697.4 L685.0 685.3 L686.0 697.4 L686.9 709.5 L687.7 721.6 L688.3 733.7 L688.7 745.8 L689.1 757.9 L689.2 770.0Z M686.0 770.0 L686.3 757.4 L686.9 744.8 L687.9 732.2 L689.2 719.6 L690.9 707.0 L692.7 694.4 L694.9 681.8 L697.1 694.4 L699.0 707.0 L700.7 719.6 L702.0 732.2 L703.0 744.8 L703.7 757.4 L704.0 770.0Z M698.0 770.0 L698.1 755.4 L698.3 740.8 L698.6 726.2 L699.0 711.5 L699.5 696.9 L700.1 682.3 L700.8 667.7 L701.6 682.3 L702.2 696.9 L702.8 711.5 L703.3 726.2 L703.7 740.8 L703.9 755.4 L704.0 770.0Z M712.0 770.0 L711.9 761.0 L711.8 752.0 L711.7 743.0 L711.5 734.1 L711.4 725.1 L711.2 716.1 L711.0 707.1 L713.1 716.1 L715.0 725.1 L716.6 734.1 L717.9 743.0 L719.0 752.0 L719.7 761.0 L720.0 770.0Z M724.0 770.0 L723.7 760.2 L723.1 750.4 L722.2 740.6 L721.1 730.9 L719.8 721.1 L718.3 711.3 L716.7 701.5 L719.8 711.3 L722.5 721.1 L724.9 730.9 L726.9 740.6 L728.5 750.4 L729.5 760.2 L730.0 770.0Z M725.0 770.0 L725.1 759.5 L725.5 749.0 L726.1 738.5 L726.8 728.1 L727.7 717.6 L728.8 707.1 L730.0 696.6 L731.7 707.1 L733.2 717.6 L734.4 728.1 L735.5 738.5 L736.3 749.0 L736.8 759.5 L737.0 770.0Z M734.0 770.0 L734.1 760.0 L734.2 750.0 L734.5 740.0 L734.8 730.1 L735.2 720.1 L735.7 710.1 L736.3 700.1 L737.2 710.1 L738.0 720.1 L738.6 730.1 L739.2 740.0 L739.6 750.0 L739.9 760.0 L740.0 770.0Z M738.0 770.0 L738.1 759.1 L738.4 748.2 L738.9 737.3 L739.5 726.5 L740.2 715.6 L741.0 704.7 L742.0 693.8 L743.0 704.7 L743.8 715.6 L744.5 726.5 L745.1 737.3 L745.6 748.2 L745.9 759.1 L746.0 770.0Z M758.9 770.0 L758.9 763.3 L759.0 756.7 L759.2 750.0 L759.4 743.3 L759.6 736.6 L759.9 730.0 L760.3 723.3 L761.6 730.0 L762.8 736.6 L763.8 743.3 L764.6 750.0 L765.3 756.7 L765.7 763.3 L765.9 770.0Z M766.4 770.0 L766.3 761.2 L766.1 752.4 L765.9 743.6 L765.6 734.9 L765.3 726.1 L764.9 717.3 L764.5 708.5 L766.4 717.3 L768.0 726.1 L769.4 734.9 L770.6 743.6 L771.5 752.4 L772.1 761.2 L772.4 770.0Z M769.5 770.0 L769.6 764.3 L769.8 758.6 L770.1 752.9 L770.6 747.1 L771.1 741.4 L771.7 735.7 L772.4 730.0 L772.9 735.7 L773.4 741.4 L773.7 747.1 L774.1 752.9 L774.3 758.6 L774.4 764.3 L774.5 770.0Z M771.5 770.0 L771.7 760.6 L772.1 751.1 L772.7 741.7 L773.5 732.3 L774.5 722.9 L775.6 713.4 L776.9 704.0 L778.0 713.4 L779.0 722.9 L779.8 732.3 L780.5 741.7 L781.0 751.1 L781.4 760.6 L781.5 770.0Z M777.5 770.0 L777.7 760.8 L778.1 751.5 L778.7 742.3 L779.5 733.1 L780.5 723.9 L781.7 714.6 L783.0 705.4 L784.3 714.6 L785.5 723.9 L786.5 733.1 L787.3 742.3 L787.9 751.5 L788.3 760.8 L788.5 770.0Z M785.5 770.0 L785.6 760.4 L785.8 750.7 L786.0 741.1 L786.4 731.4 L786.8 721.8 L787.3 712.1 L787.9 702.5 L788.5 712.1 L789.1 721.8 L789.5 731.4 L789.9 741.1 L790.2 750.7 L790.4 760.4 L790.5 770.0Z M789.0 770.0 L789.2 762.6 L789.8 755.1 L790.6 747.7 L791.6 740.3 L792.9 732.9 L794.4 725.4 L796.0 718.0 L795.8 725.4 L795.6 732.9 L795.4 740.3 L795.3 747.7 L795.2 755.1 L795.1 762.6 L795.0 770.0Z M796.0 770.0 L796.0 765.1 L796.2 760.1 L796.3 755.2 L796.6 750.3 L796.9 745.4 L797.3 740.4 L797.7 735.5 L798.7 740.4 L799.6 745.4 L800.4 750.3 L801.0 755.2 L801.5 760.1 L801.9 765.1 L802.0 770.0Z M804.0 770.0 L804.2 765.9 L804.6 761.8 L805.1 757.7 L805.9 753.5 L806.8 749.4 L807.8 745.3 L809.0 741.2 L809.3 745.3 L809.5 749.4 L809.7 753.5 L809.8 757.7 L809.9 761.8 L810.0 765.9 L810.0 770.0Z M813.5 770.0 L813.6 762.3 L813.9 754.5 L814.4 746.8 L815.0 739.1 L815.7 731.4 L816.5 723.6 L817.4 715.9 L817.7 723.6 L817.9 731.4 L818.1 739.1 L818.3 746.8 L818.4 754.5 L818.5 762.3 L818.5 770.0Z M816.3 770.0 L816.3 757.3 L816.3 744.5 L816.3 731.8 L816.4 719.0 L816.5 706.3 L816.6 693.5 L816.7 680.8 L820.5 693.5 L823.5 706.3 L825.6 719.0 L827.0 731.8 L827.9 744.5 L828.2 757.3 L828.3 770.0Z M833.0 770.0 L833.2 763.6 L833.6 757.3 L834.1 750.9 L834.9 744.6 L835.8 738.2 L836.8 731.9 L838.0 725.5 L837.8 731.9 L837.6 738.2 L837.4 744.6 L837.3 750.9 L837.1 757.3 L837.0 763.6 L837.0 770.0Z M845.1 770.0 L845.2 760.3 L845.3 750.5 L845.5 740.8 L845.8 731.0 L846.1 721.3 L846.5 711.5 L847.0 701.8 L847.7 711.5 L848.4 721.3 L849.0 731.0 L849.4 740.8 L849.8 750.5 L850.0 760.3 L850.1 770.0Z M848.0 770.0 L848.3 762.6 L848.8 755.1 L849.7 747.7 L850.8 740.3 L852.1 732.9 L853.7 725.4 L855.4 718.0 L855.1 725.4 L854.8 732.9 L854.6 740.3 L854.4 747.7 L854.2 755.1 L854.1 762.6 L854.0 770.0Z M854.5 770.0 L854.5 765.1 L854.6 760.1 L854.8 755.2 L855.0 750.3 L855.3 745.4 L855.6 740.4 L856.0 735.5 L856.8 740.4 L857.6 745.4 L858.2 750.3 L858.7 755.2 L859.1 760.1 L859.4 765.1 L859.5 770.0Z M862.0 770.0 L861.9 765.1 L861.8 760.1 L861.7 755.2 L861.6 750.3 L861.4 745.4 L861.2 740.4 L861.0 735.5 L862.6 740.4 L864.1 745.4 L865.4 750.3 L866.4 755.2 L867.2 760.1 L867.8 765.1 L868.0 770.0Z M866.5 770.0 L866.5 763.5 L866.6 757.0 L866.8 750.5 L867.0 743.9 L867.3 737.4 L867.6 730.9 L868.0 724.4 L869.1 730.9 L870.0 737.4 L870.8 743.9 L871.5 750.5 L872.0 757.0 L872.4 763.5 L872.5 770.0Z M869.5 770.0 L869.6 761.9 L869.9 753.7 L870.4 745.6 L870.9 737.5 L871.6 729.4 L872.5 721.2 L873.4 713.1 L874.2 721.2 L874.8 729.4 L875.4 737.5 L875.8 745.6 L876.2 753.7 L876.4 761.9 L876.5 770.0Z M875.5 770.0 L875.5 764.3 L875.6 758.6 L875.7 752.9 L875.8 747.1 L876.0 741.4 L876.2 735.7 L876.5 730.0 L877.9 735.7 L879.2 741.4 L880.3 747.1 L881.1 752.9 L881.8 758.6 L882.3 764.3 L882.5 770.0Z M879.5 770.0 L879.7 762.5 L880.3 754.9 L881.0 747.4 L882.0 739.9 L883.3 732.4 L884.7 724.8 L886.3 717.3 L886.6 724.8 L886.9 732.4 L887.1 739.9 L887.3 747.4 L887.4 754.9 L887.5 762.5 L887.5 770.0Z M888.0 770.0 L888.4 763.9 L889.2 757.8 L890.4 751.7 L891.9 745.5 L893.7 739.4 L895.9 733.3 L898.3 727.2 L897.8 733.3 L897.4 739.4 L897.0 745.5 L896.6 751.7 L896.3 757.8 L896.1 763.9 L896.0 770.0Z M894.5 770.0 L894.7 762.5 L895.2 754.9 L895.8 747.4 L896.7 739.9 L897.8 732.4 L899.0 724.8 L900.4 717.3 L900.2 724.8 L900.1 732.4 L899.9 739.9 L899.8 747.4 L899.6 754.9 L899.5 762.5 L899.5 770.0Z M901.0 770.0 L901.1 765.1 L901.4 760.1 L901.8 755.2 L902.3 750.3 L903.0 745.4 L903.7 740.4 L904.6 735.5 L905.2 740.4 L905.7 745.4 L906.1 750.3 L906.5 755.2 L906.8 760.1 L906.9 765.1 L907.0 770.0Z M908.0 770.0 L908.0 765.9 L908.1 761.8 L908.3 757.7 L908.5 753.5 L908.8 749.4 L909.1 745.3 L909.5 741.2 L910.6 745.3 L911.5 749.4 L912.3 753.5 L913.0 757.7 L913.5 761.8 L913.9 765.9 L914.0 770.0Z M917.5 770.0 L917.6 763.6 L917.7 757.1 L918.0 750.7 L918.4 744.3 L918.8 737.9 L919.4 731.4 L920.0 725.0 L921.1 731.4 L922.0 737.9 L922.8 744.3 L923.5 750.7 L924.0 757.1 L924.4 763.6 L924.5 770.0Z M929.0 770.0 L928.8 761.5 L928.5 752.9 L928.0 744.4 L927.4 735.9 L926.7 727.4 L925.9 718.8 L925.0 710.3 L927.3 718.8 L929.4 727.4 L931.2 735.9 L932.7 744.4 L933.9 752.9 L934.7 761.5 L935.0 770.0Z M931.0 770.0 L931.0 762.3 L931.2 754.5 L931.4 746.8 L931.6 739.1 L932.0 731.4 L932.3 723.6 L932.8 715.9 L933.8 723.6 L934.7 731.4 L935.4 739.1 L936.1 746.8 L936.5 754.5 L936.9 762.3 L937.0 770.0Z M935.0 770.0 L935.1 759.9 L935.4 749.7 L935.8 739.6 L936.4 729.4 L937.1 719.3 L938.0 709.1 L939.0 699.0 L941.4 709.1 L943.5 719.3 L945.3 729.4 L946.8 739.6 L947.9 749.7 L948.7 759.9 L949.0 770.0Z M947.5 770.0 L947.6 760.5 L947.9 750.9 L948.3 741.4 L948.8 731.8 L949.4 722.3 L950.2 712.7 L951.0 703.2 L951.4 712.7 L951.7 722.3 L952.0 731.8 L952.2 741.4 L952.4 750.9 L952.5 760.5 L952.5 770.0Z M952.5 770.0 L952.8 762.8 L953.4 755.6 L954.2 748.4 L955.3 741.1 L956.7 733.9 L958.2 726.7 L960.0 719.5 L959.5 726.7 L959.0 733.9 L958.5 741.1 L958.1 748.4 L957.8 755.6 L957.6 762.8 L957.5 770.0Z M962.0 770.0 L961.9 765.3 L961.7 760.6 L961.4 755.9 L961.0 751.1 L960.5 746.4 L960.0 741.7 L959.5 737.0 L961.5 741.7 L963.3 746.4 L964.8 751.1 L966.0 755.9 L967.0 760.6 L967.7 765.3 L968.0 770.0Z M967.0 770.0 L967.0 765.6 L967.1 761.3 L967.3 756.9 L967.6 752.6 L967.8 748.2 L968.2 743.9 L968.6 739.5 L969.6 743.9 L970.6 748.2 L971.4 752.6 L972.0 756.9 L972.5 761.3 L972.9 765.6 L973.0 770.0Z M971.5 770.0 L971.6 763.3 L971.7 756.5 L971.9 749.8 L972.2 743.1 L972.6 736.4 L973.0 729.6 L973.5 722.9 L974.7 729.6 L975.7 736.4 L976.6 743.1 L977.4 749.8 L978.0 756.5 L978.3 763.3 L978.5 770.0Z M977.5 770.0 L977.6 763.6 L977.7 757.1 L978.0 750.7 L978.4 744.3 L978.8 737.9 L979.3 731.4 L979.9 725.0 L981.0 731.4 L982.0 737.9 L982.8 744.3 L983.5 750.7 L984.0 757.1 L984.4 763.6 L984.5 770.0Z M986.5 770.0 L986.4 761.5 L986.1 752.9 L985.7 744.4 L985.2 735.9 L984.7 727.4 L984.1 718.8 L983.4 710.3 L986.2 718.8 L988.8 727.4 L990.9 735.9 L992.7 744.4 L994.1 752.9 L995.1 761.5 L995.5 770.0Z M972.0 770.0 L972.1 764.5 L972.4 759.0 L972.9 753.5 L973.4 748.0 L974.2 742.5 L975.0 737.0 L976.0 731.5 L977.4 737.0 L978.7 742.5 L979.8 748.0 L980.7 753.5 L981.4 759.0 L981.8 764.5 L982.0 770.0Z M981.5 770.0 L981.6 764.2 L982.0 758.4 L982.5 752.6 L983.1 746.9 L984.0 741.1 L984.9 735.3 L986.0 729.5 L987.1 735.3 L988.0 741.1 L988.9 746.9 L989.5 752.6 L990.0 758.4 L990.4 764.2 L990.5 770.0Z M942.0 770.0 L942.2 763.6 L942.5 757.3 L943.1 750.9 L943.8 744.6 L944.7 738.2 L945.8 731.9 L947.0 725.5 L947.7 731.9 L948.4 738.2 L948.9 744.6 L949.4 750.9 L949.7 757.3 L949.9 763.6 L950.0 770.0Z M924.0 770.0 L924.1 764.5 L924.4 759.0 L924.9 753.5 L925.5 748.0 L926.2 742.5 L927.0 737.0 L928.0 731.5 L929.0 737.0 L929.8 742.5 L930.5 748.0 L931.1 753.5 L931.6 759.0 L931.9 764.5 L932.0 770.0Z M992.5 770.0 L992.6 760.6 L993.0 751.1 L993.6 741.7 L994.5 732.2 L995.5 722.8 L996.6 713.3 L998.0 703.9 L1000.5 713.3 L1002.7 722.8 L1004.6 732.2 L1006.2 741.7 L1007.4 751.1 L1008.2 760.6 L1008.5 770.0Z M1004.0 770.0 L1004.0 761.3 L1004.0 752.5 L1004.1 743.8 L1004.1 735.1 L1004.2 726.4 L1004.3 717.6 L1004.5 708.9 L1005.8 717.6 L1007.0 726.4 L1007.9 735.1 L1008.8 743.8 L1009.4 752.5 L1009.8 761.3 L1010.0 770.0Z M1009.0 770.0 L1008.9 759.5 L1008.6 748.9 L1008.2 738.4 L1007.7 727.8 L1007.2 717.3 L1006.6 706.7 L1005.9 696.2 L1009.0 706.7 L1011.7 717.3 L1014.0 727.8 L1016.0 738.4 L1017.5 748.9 L1018.6 759.5 L1019.0 770.0Z M1014.0 770.0 L1014.1 759.8 L1014.3 749.5 L1014.6 739.3 L1015.0 729.0 L1015.6 718.8 L1016.2 708.5 L1017.0 698.3 L1019.1 708.5 L1021.0 718.8 L1022.7 729.0 L1024.0 739.3 L1025.0 749.5 L1025.7 759.8 L1026.0 770.0Z M1023.0 770.0 L1023.1 762.5 L1023.3 754.9 L1023.7 747.4 L1024.1 739.9 L1024.6 732.4 L1025.3 724.8 L1026.0 717.3 L1026.7 724.8 L1027.4 732.4 L1027.9 739.9 L1028.3 747.4 L1028.7 754.9 L1028.9 762.5 L1029.0 770.0Z"/>
<path fill="#8cc868" d="M307.3 681.1 L304.5 706.4 L303.1 719.1 L306.6 747.2 L312.3 723.3 L316.5 706.4 L313 685.3 L309.5 690Z"/>
<path fill="url(#gg)" d="M0.0 770.0 L0.0 754.7 L6.6 754.7 L12.9 757.2 L18.3 756.5 L24.5 755.8 L29.9 755.5 L36.6 755.3 L41.8 756.1 L48.6 757.4 L54.3 757.6 L60.2 757.8 L65.6 757.8 L72.4 757.3 L79.1 756.9 L86.1 758.5 L93.6 755.6 L99.9 757.8 L105.3 755.7 L111.7 758.1 L117.5 758.4 L123.0 757.0 L129.7 756.5 L136.4 756.9 L143.5 757.3 L150.8 752.5 L156.0 747.5 L161.2 747.5 L166.3 747.1 L172.3 749.3 L178.7 747.3 L184.5 749.0 L191.1 747.7 L199.0 747.1 L204.5 747.0 L210.2 748.3 L217.7 746.9 L222.7 747.9 L230.6 748.6 L236.7 746.3 L243.6 747.5 L251.0 748.0 L258.2 747.5 L265.6 750.3 L272.8 751.1 L280.2 751.2 L286.3 752.9 L293.2 753.2 L300.7 751.6 L307.5 753.9 L313.5 752.7 L321.3 751.8 L327.6 752.5 L334.0 753.8 L340.7 753.3 L346.5 755.1 L354.2 754.7 L361.3 756.4 L368.4 755.6 L376.3 755.6 L381.5 756.9 L389.2 755.4 L396.8 756.5 L403.3 756.8 L409.8 757.7 L414.9 756.5 L421.7 757.9 L429.7 757.8 L435.5 758.0 L441.3 757.6 L446.5 755.7 L454.3 758.1 L459.5 757.2 L467.3 756.2 L472.6 756.4 L478.6 756.0 L484.6 757.7 L491.3 755.8 L498.7 756.7 L505.2 758.0 L512.3 755.6 L517.7 754.6 L523.0 753.6 L528.7 752.7 L534.5 750.6 L542.4 749.7 L548.8 748.6 L554.6 748.7 L560.5 751.0 L567.5 749.8 L575.5 749.0 L583.0 751.4 L588.4 751.4 L595.9 751.1 L601.6 749.4 L609.1 751.2 L615.5 750.8 L622.1 750.1 L627.4 751.6 L635.3 751.5 L642.6 749.8 L648.3 749.1 L653.5 750.9 L659.4 748.9 L667.1 748.2 L673.5 748.6 L679.1 748.0 L685.7 749.1 L693.3 749.1 L698.4 748.7 L703.8 747.8 L711.1 750.1 L718.8 751.1 L725.5 748.3 L730.8 749.0 L736.6 751.2 L744.3 751.2 L750.9 750.1 L758.2 753.6 L763.6 754.6 L771.5 764.2 L777.7 765.3 L784.2 764.1 L789.6 763.1 L795.3 765.2 L801.6 764.0 L806.8 764.6 L813.6 764.0 L819.8 765.9 L824.9 764.8 L831.7 766.0 L839.2 764.0 L845.8 765.4 L853.1 765.8 L858.8 763.9 L864.5 763.7 L871.1 765.3 L876.2 765.4 L883.8 766.4 L890.9 765.5 L897.2 764.2 L902.3 763.9 L909.7 765.8 L915.6 764.9 L921.5 759.6 L927.7 755.7 L933.4 754.6 L939.6 757.4 L947.4 756.5 L952.5 755.2 L958.0 757.0 L963.3 756.6 L970.8 755.2 L978.6 754.0 L984.8 754.0 L990.0 756.5 L996.0 754.6 L1003.1 756.0 L1010.9 754.3 L1017.3 754.3 L1023.6 756.2 L1030.0 770.0Z"/>
</g></svg>
<div class="t title" id="tw0" style="left:88.7px;top:16.3px;transform:scaleX(0.9564);">SOLVING</div>
<div class="t title" id="tw1" style="left:210.7px;top:16.3px;transform:scaleX(0.8815);">SERIES-PARALLEL</div>
<div class="t title" id="tw2" style="left:439.3px;top:16.3px;transform:scaleX(0.9315);">CIRCUIT</div>
<div class="t title" id="tw3" style="left:548.5px;top:16.3px;transform:scaleX(0.9390);">CALCULATION</div>
<div class="t title" id="t2" style="left:338.2px;top:53.4px;transform:scaleX(0.9411);">PROBLEMS</div>
<div style="position:absolute;left:46.0px;top:281.3px;width:8.8px;height:8.8px;border-radius:50%;background:#262626;"></div>
<div class="t b" id="w0_0" style="left:82.12px;top:271.06px;transform:scaleX(0.9526);">The</div>
<div class="t b" id="w0_1" style="left:141.74px;top:271.06px;transform:scaleX(0.9216);">key</div>
<div class="t b" id="w0_2" style="left:196.15px;top:271.06px;transform:scaleX(1.1400);">to</div>
<div class="t b" id="w0_3" style="left:232.51px;top:271.06px;transform:scaleX(0.9984);">solving</div>
<div class="t b" id="w1_0" style="left:82.23px;top:307.86px;transform:scaleX(1.0058);">series-parallel</div>
<div class="t b" id="w2_0" style="left:82.31px;top:344.66px;transform:scaleX(1.0347);">circuit</div>
<div class="t b" id="w2_1" style="left:175.34px;top:344.66px;transform:scaleX(1.0245);">problems</div>
<div class="t b" id="w2_2" style="left:314.66px;top:344.66px;transform:scaleX(0.8692);">is</div>
<div class="t b" id="w3_0" style="left:82.96px;top:381.46px;transform:scaleX(1.0689);">to</div>
<div class="t b" id="w3_1" style="left:119.81px;top:381.46px;transform:scaleX(1.0314);">combine</div>
<div class="t b" id="w3_2" style="left:248.15px;top:381.46px;transform:scaleX(0.9255);">or</div>
<div class="t b" id="w4_0" style="left:83.23px;top:418.26px;transform:scaleX(1.0146);">simplify</div>
<div class="t b" id="w4_1" style="left:199.16px;top:418.26px;transform:scaleX(0.8950);">as</div>
<div class="t b" id="w4_2" style="left:236.78px;top:418.26px;transform:scaleX(1.0091);">much</div>
<div class="t b" id="w4_3" style="left:321.68px;top:418.26px;transform:scaleX(0.8683);">as</div>
<div class="t b" id="w5_0" style="left:82.37px;top:455.06px;transform:scaleX(1.0017);">possible.</div>
</body></html>
